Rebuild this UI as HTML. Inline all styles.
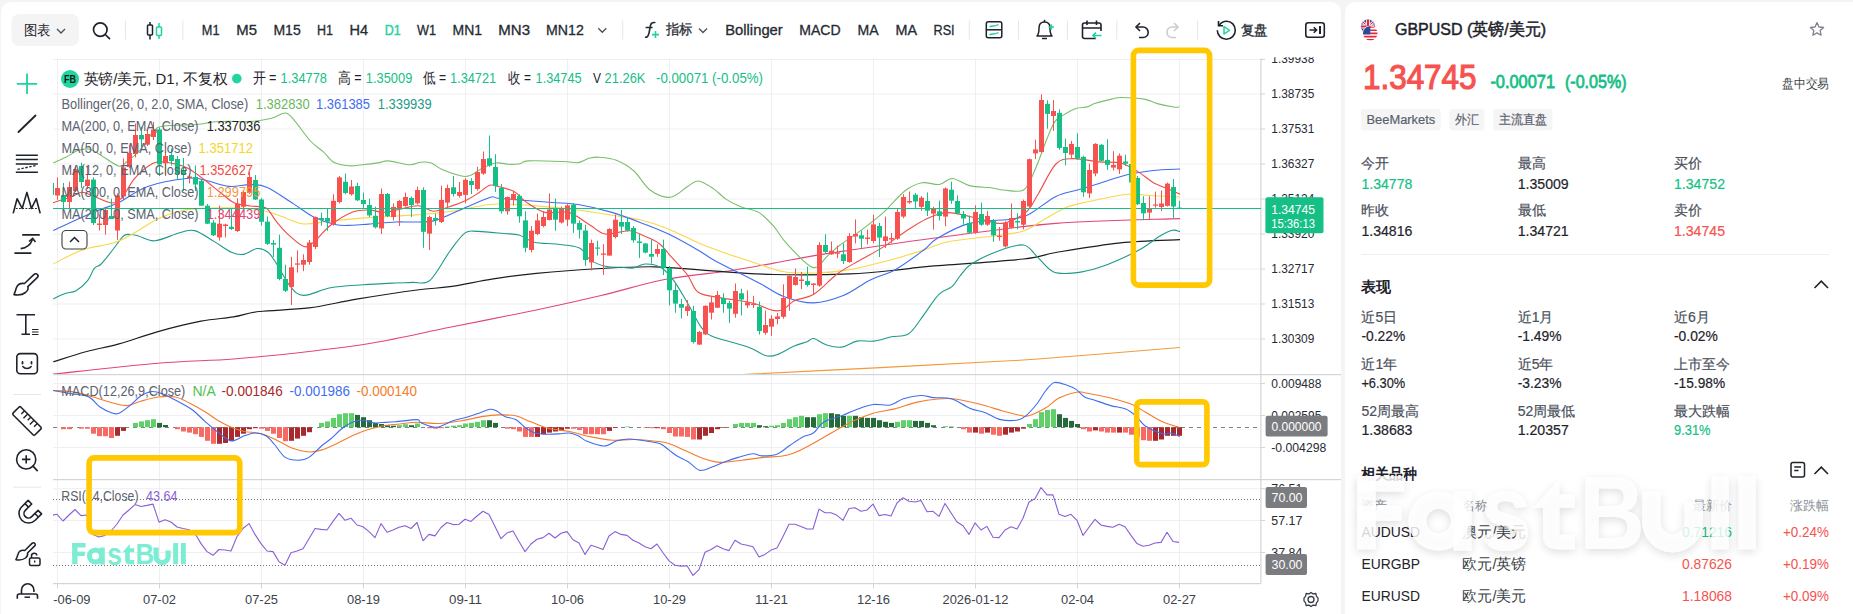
<!DOCTYPE html>
<html><head><meta charset="utf-8"><title>GBPUSD chart</title>
<style>html,body{margin:0;padding:0;width:1853px;height:614px;overflow:hidden;background:#f4f4f4;font-family:"Liberation Sans", sans-serif;} svg{display:block}</style>
</head><body><svg width="1853" height="614" viewBox="0 0 1853 614" font-family='"Liberation Sans", sans-serif'><rect x="0" y="0" width="1853" height="614" fill="#f4f4f4"/>
<rect x="1" y="2" width="1340" height="660" rx="10" fill="#fff"/>
<rect x="1345" y="2" width="1499.5" height="660" rx="10" fill="#fff"/>
<rect x="11.5" y="14" width="67.5" height="32" rx="8" fill="#f4f4f4"/>
<text x="24" y="34.6" font-size="13.5" fill="#1e232b" textLength="26.8" lengthAdjust="spacingAndGlyphs">图表</text>
<path d="M57 29 L61 33 L65 29" fill="none" stroke="#4a4f57" stroke-width="1.3"/>
<circle cx="100.3" cy="29.6" r="6.8" fill="none" stroke="#1e232b" stroke-width="1.7"/><path d="M105.2 34.5 L109.5 38.6" stroke="#1e232b" stroke-width="1.7" stroke-linecap="round"/>
<rect x="124.9" y="20.5" width="1" height="19" fill="#e3e5e8"/>
<rect x="182.3" y="20.5" width="1" height="19" fill="#e3e5e8"/>
<rect x="622.2" y="20.5" width="1" height="19" fill="#e3e5e8"/>
<rect x="968.8" y="20.5" width="1" height="19" fill="#e3e5e8"/>
<rect x="1018" y="20.5" width="1" height="19" fill="#e3e5e8"/>
<rect x="1066.9" y="20.5" width="1" height="19" fill="#e3e5e8"/>
<rect x="1116.3" y="20.5" width="1" height="19" fill="#e3e5e8"/>
<rect x="1197.1" y="20.5" width="1" height="19" fill="#e3e5e8"/>
<rect x="147.5" y="25" width="5" height="10" rx="1" fill="none" stroke="#1e232b" stroke-width="1.5"/><path d="M150 22 V25 M150 35 V39.5" stroke="#1e232b" stroke-width="1.5"/>
<rect x="156.5" y="27" width="5" height="8.5" rx="1" fill="none" stroke="#1fd2a0" stroke-width="1.5"/><path d="M159 23 V27 M159 35.5 V39" stroke="#1fd2a0" stroke-width="1.5"/>
<text x="201.8" y="35" font-size="14.2" fill="#262b33" textLength="17.7" lengthAdjust="spacingAndGlyphs" stroke="#262b33" stroke-width="0.3">M1</text>
<text x="236.3" y="35" font-size="14.2" fill="#262b33" textLength="20.7" lengthAdjust="spacingAndGlyphs" stroke="#262b33" stroke-width="0.3">M5</text>
<text x="273.4" y="35" font-size="14.2" fill="#262b33" textLength="27.3" lengthAdjust="spacingAndGlyphs" stroke="#262b33" stroke-width="0.3">M15</text>
<text x="317" y="35" font-size="14.2" fill="#262b33" textLength="16" lengthAdjust="spacingAndGlyphs" stroke="#262b33" stroke-width="0.3">H1</text>
<text x="349.4" y="35" font-size="14.2" fill="#262b33" textLength="18.6" lengthAdjust="spacingAndGlyphs" stroke="#262b33" stroke-width="0.3">H4</text>
<text x="384.8" y="35" font-size="14.2" fill="#1fd2a0" textLength="15.9" lengthAdjust="spacingAndGlyphs" stroke="#1fd2a0" stroke-width="0.45">D1</text>
<text x="417" y="35" font-size="14.2" fill="#262b33" textLength="19" lengthAdjust="spacingAndGlyphs" stroke="#262b33" stroke-width="0.3">W1</text>
<text x="452.5" y="35" font-size="14.2" fill="#262b33" textLength="29.5" lengthAdjust="spacingAndGlyphs" stroke="#262b33" stroke-width="0.3">MN1</text>
<text x="498.3" y="35" font-size="14.2" fill="#262b33" textLength="31.7" lengthAdjust="spacingAndGlyphs" stroke="#262b33" stroke-width="0.3">MN3</text>
<text x="546" y="35" font-size="14.2" fill="#262b33" textLength="37.8" lengthAdjust="spacingAndGlyphs" stroke="#262b33" stroke-width="0.3">MN12</text>
<text x="725.2" y="35" font-size="14.2" fill="#262b33" textLength="57.6" lengthAdjust="spacingAndGlyphs" stroke="#262b33" stroke-width="0.3">Bollinger</text>
<text x="799.2" y="35" font-size="14.2" fill="#262b33" textLength="41.4" lengthAdjust="spacingAndGlyphs" stroke="#262b33" stroke-width="0.3">MACD</text>
<text x="857.5" y="35" font-size="14.2" fill="#262b33" textLength="21.1" lengthAdjust="spacingAndGlyphs" stroke="#262b33" stroke-width="0.3">MA</text>
<text x="895.5" y="35" font-size="14.2" fill="#262b33" textLength="21.5" lengthAdjust="spacingAndGlyphs" stroke="#262b33" stroke-width="0.3">MA</text>
<text x="933.5" y="35" font-size="14.2" fill="#262b33" textLength="21.1" lengthAdjust="spacingAndGlyphs" stroke="#262b33" stroke-width="0.3">RSI</text>
<path d="M598.3 28.3 L602.3 32.3 L606.3 28.3" fill="none" stroke="#4a4f57" stroke-width="1.3"/>
<path d="M699 28.5 L703 32.5 L707 28.5" fill="none" stroke="#4a4f57" stroke-width="1.3"/>
<path d="M645.5 37.3 C647.5 37.3 648.5 35.5 649 33 L650.6 25 C651 23 652.5 22.3 654.8 22.5" fill="none" stroke="#262b33" stroke-width="1.6" stroke-linecap="round"/><path d="M645.6 27.5 H652.6" stroke="#262b33" stroke-width="1.5"/><path d="M652 34.6 H659 M655.5 31.1 V38.1" stroke="#1fd2a0" stroke-width="1.6"/>
<text x="665.8" y="34.2" font-size="13.5" fill="#262b33" textLength="26.8" lengthAdjust="spacingAndGlyphs" stroke="#262b33" stroke-width="0.25">指标</text>
<rect x="986.3" y="21.8" width="15.5" height="16" rx="2" fill="none" stroke="#1e232b" stroke-width="1.5"/><path d="M986.5 29.8 H1001.5" stroke="#1e232b" stroke-width="1.5"/><path d="M989.5 27 C992 25 995 27 998.5 24.5 M989.5 35 C992 33 995 35 998.5 32.5" fill="none" stroke="#1fd2a0" stroke-width="1.5"/>
<path d="M1037 36 C1039 34 1039 31 1039 28 C1039 24 1041.5 22 1044.5 22 C1047.5 22 1050 24 1050 28 C1050 31 1050 34 1052 36 Z" fill="none" stroke="#1e232b" stroke-width="1.5" stroke-linejoin="round"/><path d="M1042 38.5 H1047" stroke="#1e232b" stroke-width="1.5"/><path d="M1044.5 19.8 V22" stroke="#1e232b" stroke-width="1.5"/><path d="M1048.5 27 H1054 M1051.2 24.2 V29.8" stroke="#1fd2a0" stroke-width="1.5"/>
<path d="M1096 38.5 H1084.5 C1083.4 38.5 1082.5 37.6 1082.5 36.5 V25 C1082.5 23.9 1083.4 23 1084.5 23 H1099 C1100.1 23 1101 23.9 1101 25 V31" fill="none" stroke="#1e232b" stroke-width="1.6"/><path d="M1082.5 28 H1101 M1087 20.5 V25 M1096.5 20.5 V25" stroke="#1e232b" stroke-width="1.6"/><path d="M1101.5 35.5 H1093 M1096 32.5 L1093 35.5 L1096 38.5" fill="none" stroke="#1fd2a0" stroke-width="1.6"/>
<path d="M1137 27 H1143 C1146 27 1148.2 29.5 1148.2 32.3 C1148.2 35.2 1146 37.5 1143 37.5 H1139" fill="none" stroke="#1e232b" stroke-width="1.6"/><path d="M1140 23 L1136 27 L1140 31" fill="none" stroke="#1e232b" stroke-width="1.6"/>
<path d="M1177 27 H1172 C1169 27 1167 29.5 1167 32.3 C1167 35.2 1169 37.5 1172 37.5 H1176" fill="none" stroke="#c9ccd2" stroke-width="1.6"/><path d="M1174 23 L1178 27 L1174 31" fill="none" stroke="#c9ccd2" stroke-width="1.6"/>
<path d="M1219 25.5 C1220.8 22.8 1223.8 21.2 1226.5 21.2 C1231.6 21.2 1235.3 25.3 1235.3 30.3 C1235.3 35.3 1231.3 39.3 1226.3 39.3 C1221.3 39.3 1217.3 35.3 1217.3 30.3" fill="none" stroke="#1e232b" stroke-width="1.6"/><path d="M1218.5 21 V25.8 H1223" fill="none" stroke="#1e232b" stroke-width="1.6"/><path d="M1224 26.5 L1229.5 30.3 L1224 34 Z" fill="none" stroke="#1fd2a0" stroke-width="1.5" stroke-linejoin="round"/>
<text x="1240.6" y="35" font-size="13.5" fill="#262b33" textLength="27" lengthAdjust="spacingAndGlyphs" stroke="#262b33" stroke-width="0.35">复盘</text>
<rect x="1305.8" y="22.8" width="18.5" height="14.5" rx="2.5" fill="none" stroke="#1e232b" stroke-width="1.6"/><path d="M1309.5 30 H1316.5 M1313.8 27.2 L1316.6 30 L1313.8 32.8" fill="none" stroke="#1e232b" stroke-width="1.6"/><path d="M1320 26 V34" stroke="#1e232b" stroke-width="2"/>
<path d="M27 73.5 V94 M16.8 83.8 H37.2" stroke="#1fd2a0" stroke-width="1.8"/>
<path d="M18.5 132 L35.5 115.5" stroke="#1e232b" stroke-width="1.8" stroke-linecap="round"/>
<path d="M15.8 155.3 H37.9 M15.8 159.6 H37.9 M15.8 163.9 H37.9 M15.8 172.3 H37.9" stroke="#1e232b" stroke-width="1.5"/><path d="M17.5 169.4 L36.5 165.4" stroke="#1e232b" stroke-width="1.4" stroke-dasharray="2.4 1.6"/>
<path d="M13.2 213.4 L17.1 198.7 L22.2 208.5 L26.9 192.4 L31.4 208.5 L36.3 198.7 L40.2 213.4" fill="none" stroke="#1e232b" stroke-width="1.6" stroke-linejoin="round"/><path d="M15.8 208.5 H37.3" stroke="#1e232b" stroke-width="1.2" stroke-dasharray="1.8 1.4"/>
<path d="M22.2 234.9 H39.8 M14.4 253.1 H31.4" stroke="#1e232b" stroke-width="1.6"/><path d="M20.7 248.6 C26 248 30.5 245 32.4 239.5" fill="none" stroke="#1e232b" stroke-width="1.6"/><path d="M29 241.5 L32.6 238.5 L35.5 242" fill="none" stroke="#1e232b" stroke-width="1.6"/>
<path d="M37.6 274.8 C36.5 273.5 35 273.5 33.8 274.6 L24.5 283.5 C21 283 17.5 284.5 16.3 288 C15.4 290.8 15 292.5 14 294.6 C18 295.3 22.5 294.8 25.5 292.5 C27.6 290.7 28.4 288 27.8 286.6 L37.2 277.6 C38.2 276.8 38.3 275.7 37.6 274.8 Z" fill="none" stroke="#1e232b" stroke-width="1.6" stroke-linejoin="round"/>
<path d="M16.5 314.8 H35 M25.8 314.8 V334.3 M21.5 334.3 H30" stroke="#1e232b" stroke-width="1.6"/><path d="M32 329.5 H38.5 M32 332 H38.5 M32 334.5 H38.5" stroke="#1e232b" stroke-width="1.2"/>
<rect x="16.8" y="353.6" width="20.6" height="20.2" rx="3.5" fill="none" stroke="#1e232b" stroke-width="1.6"/><path d="M22.5 362 V363.5 M31.5 362 V363.5" stroke="#1e232b" stroke-width="1.8" stroke-linecap="round"/><path d="M22.8 366.5 C25 369.3 29 369.3 31.2 366.5" fill="none" stroke="#1e232b" stroke-width="1.5" stroke-linecap="round"/>
<rect x="13" y="394" width="28" height="1" fill="#e6e7ea"/><rect x="13" y="486.7" width="28" height="1" fill="#e6e7ea"/>
<g transform="translate(27 421) rotate(45)"><rect x="-15.5" y="-5.5" width="31" height="11" rx="1.5" fill="none" stroke="#1e232b" stroke-width="1.6"/><path d="M-9 -5.5 V-1 M-4.5 -5.5 V0.5 M0 -5.5 V-1 M4.5 -5.5 V0.5 M9 -5.5 V-1" stroke="#1e232b" stroke-width="1.4"/></g>
<circle cx="26.2" cy="459.4" r="9.6" fill="none" stroke="#1e232b" stroke-width="1.6"/><path d="M33 466.2 L37.2 470.7" stroke="#1e232b" stroke-width="1.7" stroke-linecap="round"/><path d="M22 459.4 H30.4 M26.2 455.2 V463.6" stroke="#1e232b" stroke-width="1.6"/>
<g transform="translate(28.5 513.5) rotate(45)"><path d="M-9.5 -9 V0 A9.5 9.5 0 0 0 9.5 0 V-9 H4.5 V0 A4.5 4.5 0 0 1 -4.5 0 V-9 Z" fill="none" stroke="#1e232b" stroke-width="1.6" stroke-linejoin="round"/><path d="M-9.5 -4.5 H-4.5 M4.5 -4.5 H9.5" stroke="#1e232b" stroke-width="1.5"/></g>
<path d="M34.8 543.5 C34 542.5 33 542.5 32 543.4 L24.8 550.5 C21.8 550 19 551.3 18 554.2 C17.2 556.6 16.8 558 15.9 559.7 C19.3 560.3 23 559.9 25.5 558 C27.3 556.5 27.9 554.2 27.5 553 L34.7 545.9 C35.5 545.2 35.5 544.3 34.8 543.5 Z" fill="none" stroke="#1e232b" stroke-width="1.5" stroke-linejoin="round"/><rect x="29.5" y="558" width="10.5" height="7.5" rx="1.5" fill="none" stroke="#1e232b" stroke-width="1.5"/><path d="M31.5 558 V556 C31.5 554.3 32.7 553.3 34.2 553.3 C35.7 553.3 36.8 554.3 36.8 555.5" fill="none" stroke="#1e232b" stroke-width="1.5"/><path d="M34.7 560.5 V562.5" stroke="#1e232b" stroke-width="1.4"/>
<path d="M21.5 594 V590 A6.2 6.2 0 0 1 33.9 590 V592" fill="none" stroke="#1e232b" stroke-width="1.6"/><path d="M17.3 598.8 V596 Q17.3 594 19.3 594 H35.5 Q37.5 594 37.5 596 V598.8" fill="none" stroke="#1e232b" stroke-width="1.6"/><path d="M24.5 597.2 H30" stroke="#1e232b" stroke-width="1.5"/>
<clipPath id="cp"><rect x="53" y="58.5" width="1208" height="315.5"/></clipPath><clipPath id="cm"><rect x="53" y="374" width="1208" height="105"/></clipPath><clipPath id="cr"><rect x="53" y="479" width="1208" height="104"/></clipPath>
<g><rect x="53" y="59" width="1208" height="1" fill="#efeff1"/><rect x="53" y="93.5" width="1208" height="1" fill="#efeff1"/><rect x="53" y="128.5" width="1208" height="1" fill="#efeff1"/><rect x="53" y="163.5" width="1208" height="1" fill="#efeff1"/><rect x="53" y="198.5" width="1208" height="1" fill="#efeff1"/><rect x="53" y="233.5" width="1208" height="1" fill="#efeff1"/><rect x="53" y="268.5" width="1208" height="1" fill="#efeff1"/><rect x="53" y="303.5" width="1208" height="1" fill="#efeff1"/><rect x="53" y="338.5" width="1208" height="1" fill="#efeff1"/><rect x="53" y="383" width="1208" height="1" fill="#efeff1"/><rect x="53" y="415" width="1208" height="1" fill="#efeff1"/><rect x="53" y="447" width="1208" height="1" fill="#efeff1"/><rect x="53" y="488.2" width="1208" height="1" fill="#efeff1"/><rect x="53" y="520" width="1208" height="1" fill="#efeff1"/><rect x="53" y="552" width="1208" height="1" fill="#efeff1"/><rect x="57" y="58.5" width="1" height="525.0" fill="#efeff1"/><rect x="159" y="58.5" width="1" height="525.0" fill="#efeff1"/><rect x="261" y="58.5" width="1" height="525.0" fill="#efeff1"/><rect x="363" y="58.5" width="1" height="525.0" fill="#efeff1"/><rect x="465" y="58.5" width="1" height="525.0" fill="#efeff1"/><rect x="567" y="58.5" width="1" height="525.0" fill="#efeff1"/><rect x="669" y="58.5" width="1" height="525.0" fill="#efeff1"/><rect x="771" y="58.5" width="1" height="525.0" fill="#efeff1"/><rect x="873" y="58.5" width="1" height="525.0" fill="#efeff1"/><rect x="975" y="58.5" width="1" height="525.0" fill="#efeff1"/><rect x="1077" y="58.5" width="1" height="525.0" fill="#efeff1"/><rect x="1179" y="58.5" width="1" height="525.0" fill="#efeff1"/></g>
<rect x="53" y="374" width="1288" height="1.2" fill="#d3d4d7"/>
<rect x="53" y="479" width="1288" height="1.2" fill="#d3d4d7"/>
<rect x="53" y="583" width="1208" height="1.2" fill="#d3d4d7"/>
<rect x="1260.3" y="58.5" width="1.2" height="525.0" fill="#d3d4d7"/>
<rect x="1261" y="59" width="4" height="1" fill="#d3d4d7"/>
<rect x="1261" y="93.5" width="4" height="1" fill="#d3d4d7"/>
<rect x="1261" y="128.5" width="4" height="1" fill="#d3d4d7"/>
<rect x="1261" y="163.5" width="4" height="1" fill="#d3d4d7"/>
<rect x="1261" y="198.5" width="4" height="1" fill="#d3d4d7"/>
<rect x="1261" y="233.5" width="4" height="1" fill="#d3d4d7"/>
<rect x="1261" y="268.5" width="4" height="1" fill="#d3d4d7"/>
<rect x="1261" y="303.5" width="4" height="1" fill="#d3d4d7"/>
<rect x="1261" y="338.5" width="4" height="1" fill="#d3d4d7"/>
<rect x="1261" y="383" width="4" height="1" fill="#d3d4d7"/>
<rect x="1261" y="415" width="4" height="1" fill="#d3d4d7"/>
<rect x="1261" y="447" width="4" height="1" fill="#d3d4d7"/>
<rect x="1261" y="488.2" width="4" height="1" fill="#d3d4d7"/>
<rect x="1261" y="520" width="4" height="1" fill="#d3d4d7"/>
<rect x="1261" y="552" width="4" height="1" fill="#d3d4d7"/>
<rect x="57" y="583.5" width="1" height="5" fill="#d3d4d7"/>
<rect x="159" y="583.5" width="1" height="5" fill="#d3d4d7"/>
<rect x="261" y="583.5" width="1" height="5" fill="#d3d4d7"/>
<rect x="363" y="583.5" width="1" height="5" fill="#d3d4d7"/>
<rect x="465" y="583.5" width="1" height="5" fill="#d3d4d7"/>
<rect x="567" y="583.5" width="1" height="5" fill="#d3d4d7"/>
<rect x="669" y="583.5" width="1" height="5" fill="#d3d4d7"/>
<rect x="771" y="583.5" width="1" height="5" fill="#d3d4d7"/>
<rect x="873" y="583.5" width="1" height="5" fill="#d3d4d7"/>
<rect x="975" y="583.5" width="1" height="5" fill="#d3d4d7"/>
<rect x="1077" y="583.5" width="1" height="5" fill="#d3d4d7"/>
<rect x="1179" y="583.5" width="1" height="5" fill="#d3d4d7"/>
<g clip-path="url(#cp)"><path d="M700 377 C708.52 376.52 721 375.67 751.1 374.1 C781.2 372.53 839.12 369.75 880.6 367.6 C922.08 365.45 973.77 362.63 1000 361.2 C1026.23 359.77 1008 361.28 1038 359 C1068 356.72 1156.33 349.42 1180 347.5" fill="none" stroke="#f39a3c" stroke-width="1.1" stroke-linejoin="round"/><path d="M53.2 374.1 C70.67 372.3 127.95 365.82 158 363.3 C188.05 360.78 208.33 360.97 233.5 359 C258.67 357.03 285.62 354.2 309 351.5 C332.38 348.8 350.3 346.83 373.8 342.8 C397.3 338.77 422.92 332.77 450 327.3 C477.08 321.83 511.12 315.3 536.3 310 C561.48 304.7 579.5 300.62 601.1 295.5 C622.7 290.38 644.32 283.43 665.9 279.3 C687.48 275.17 712.62 273.4 730.6 270.7 C748.58 268 759.58 265.65 773.8 263.1 C788.02 260.55 803.2 257.55 815.9 255.4 C828.6 253.25 827.98 253.38 850 250.2 C872.02 247.02 913.68 240.77 948 236.3 C982.32 231.83 1017.23 226.35 1055.9 223.4 C1094.57 220.45 1159.32 219.4 1180 218.6" fill="none" stroke="#e2457a" stroke-width="1.1" stroke-linejoin="round"/><path d="M53.2 361.8 C58.78 360.08 75.73 354.48 86.7 351.5 C97.67 348.52 107.12 347.22 119 343.9 C130.88 340.58 144.33 335.38 158 331.6 C171.67 327.82 188.42 323.65 201 321.2 C213.58 318.75 223.77 318.52 233.5 316.9 C243.23 315.28 246.82 313 259.4 311.5 C271.98 310 292.82 309.95 309 307.9 C325.18 305.85 338.5 302.18 356.5 299.2 C374.5 296.22 401.42 292.08 417 290 C432.58 287.92 437.3 288.55 450 286.7 C462.7 284.85 478.82 281.13 493.2 278.9 C507.58 276.67 518.32 275.03 536.3 273.3 C554.28 271.57 581.32 269.58 601.1 268.5 C620.88 267.42 637.02 266.43 655 266.8 C672.98 267.17 689.2 269.42 709 270.7 C728.8 271.98 750.3 273.97 773.8 274.5 C797.3 275.03 828.6 274.75 850 273.9 C871.4 273.05 889.48 270.62 902.2 269.4 C914.92 268.18 906.08 268.33 926.3 266.6 C946.52 264.87 1001.9 261.35 1023.5 259 C1045.1 256.65 1039.72 255.2 1055.9 252.5 C1072.08 249.8 1099.92 244.95 1120.6 242.8 C1141.28 240.65 1170.1 240.13 1180 239.6" fill="none" stroke="#1b1d21" stroke-width="1.2" stroke-linejoin="round"/><path d="M53.2 298.9 C55.17 298 61.2 294.85 65 293.5 C68.8 292.15 72.2 293 76 290.8 C79.8 288.6 84.75 284.03 87.8 280.3 C90.85 276.57 92.07 271.12 94.3 268.4 C96.53 265.68 98.15 267.07 101.2 264 C104.25 260.93 108.9 254.67 112.6 250 C116.3 245.33 120.52 238.58 123.4 236 C126.28 233.42 127.38 234.5 129.9 234.5 C132.42 234.5 134.37 234.95 138.5 236 C142.63 237.05 147.87 241.33 154.7 240.8 C161.53 240.27 172.85 234.5 179.5 232.8 C186.15 231.1 188.85 229.17 194.6 230.6 C200.35 232.03 207.88 237.8 214 241.4 C220.12 245 226.43 250.03 231.3 252.2 C236.17 254.37 238.88 255.02 243.2 254.4 C247.52 253.78 253.07 248.87 257.2 248.5 C261.33 248.13 264.75 249.62 268 252.2 C271.25 254.78 273.03 258.37 276.7 264 C280.37 269.63 285.52 280.77 290 286 C294.48 291.23 296.83 295.1 303.6 295.4 C310.37 295.7 320.7 289.57 330.6 287.8 C340.5 286.03 352.2 285.6 363 284.8 C373.8 284 387.12 283.4 395.4 283 C403.68 282.6 406.93 282.85 412.7 282.4 C418.47 281.95 423.78 285.53 430 280.3 C436.22 275.07 444.15 258.9 450 251 C455.85 243.1 460.43 236.17 465.1 232.9 C469.77 229.63 471.52 231.3 478 231.4 C484.48 231.5 497.17 232.9 504 233.5 C510.83 234.1 513.97 233.55 519 235 C524.03 236.45 527.7 240.65 534.2 242.2 C540.7 243.75 550.45 243.33 558 244.3 C565.55 245.27 574.12 245.4 579.5 248 C584.88 250.6 585.98 256.85 590.3 259.9 C594.62 262.95 600.18 265.07 605.4 266.3 C610.62 267.53 616.92 267.02 621.6 267.3 C626.28 267.58 629.55 268.55 633.5 268 C637.45 267.45 640.82 264.12 645.3 264 C649.78 263.88 655.72 264.6 660.4 267.3 C665.08 270 668.88 274.25 673.4 280.2 C677.92 286.15 682.82 295.08 687.5 303 C692.18 310.92 697.37 322.15 701.5 327.7 C705.63 333.25 706.92 333.78 712.3 336.3 C717.68 338.82 727.33 340.82 733.8 342.8 C740.27 344.78 745.7 346.03 751.1 348.2 C756.5 350.37 761.88 354.72 766.2 355.8 C770.52 356.88 772.32 356.33 777 354.7 C781.68 353.07 789.27 348.17 794.3 346 C799.33 343.83 803.97 342.95 807.2 341.7 C810.43 340.45 810.45 337.95 813.7 338.5 C816.95 339.05 822.02 343.57 826.7 345 C831.38 346.43 836.77 347.75 841.8 347.1 C846.83 346.45 851.52 342.1 856.9 341.1 C862.28 340.1 868.35 341.82 874.1 341.1 C879.85 340.38 885.63 338.02 891.4 336.8 C897.17 335.58 903.3 337.47 908.7 333.8 C914.1 330.13 918.77 321.38 923.8 314.8 C928.83 308.22 934.22 298.98 938.9 294.3 C943.58 289.62 948.38 289.75 951.9 286.7 C955.42 283.65 956.77 279.78 960 276 C963.23 272.22 964.68 268.27 971.3 264 C977.92 259.73 991 253.57 999.7 250.4 C1008.4 247.23 1017.38 244.1 1023.5 245 C1029.62 245.9 1031.37 251.3 1036.4 255.8 C1041.43 260.3 1046.85 269.2 1053.7 272 C1060.55 274.8 1069.95 273.33 1077.5 272.6 C1085.05 271.87 1091.82 269.87 1099 267.6 C1106.18 265.33 1113.4 262.23 1120.6 259 C1127.8 255.77 1135.72 251.98 1142.2 248.2 C1148.68 244.42 1154.47 239.28 1159.5 236.3 C1164.53 233.32 1168.98 231.08 1172.4 230.3 C1175.82 229.52 1178.73 231.38 1180 231.6" fill="none" stroke="#1f9a8a" stroke-width="1.1" stroke-linejoin="round"/><path d="M53.3 162.8 C55.47 161.83 62.23 159.03 66.3 157 C70.37 154.97 73.92 151.93 77.7 150.6 C81.48 149.27 85.47 148.45 89 149 C92.53 149.55 94 151.07 98.9 153.9 C103.8 156.73 113.8 164.65 118.4 166 C123 167.35 122.9 164.67 126.5 162 C130.1 159.33 135.42 155.17 140 150 C144.58 144.83 150 135 154 131 C158 127 156.9 127.08 164 126 C171.1 124.92 188.43 125.17 196.6 124.5 C204.77 123.83 207.6 122.53 213 122 C218.4 121.47 222.83 121.37 229 121.3 C235.17 121.23 242.9 122.1 250 121.6 C257.1 121.1 265.67 119.73 271.6 118.3 C277.53 116.87 281.65 112.45 285.6 113 C289.55 113.55 291.17 116.93 295.3 121.6 C299.43 126.27 305.72 135.97 310.4 141 C315.08 146.03 319.43 148.2 323.4 151.8 C327.37 155.4 329.88 160.27 334.2 162.6 C338.52 164.93 344.62 165.43 349.3 165.8 C353.98 166.17 357.27 165.33 362.3 164.8 C367.33 164.27 375.18 163.25 379.5 162.6 C383.82 161.95 383.17 160.53 388.2 160.9 C393.23 161.27 404.32 164.58 409.7 164.8 C415.08 165.02 416.9 162.5 420.5 162.2 C424.1 161.9 427.7 161.78 431.3 163 C434.9 164.22 437.07 167.33 442.1 169.5 C447.13 171.67 456.82 174.98 461.5 176 C466.18 177.02 466.95 176.77 470.2 175.6 C473.45 174.43 476.7 171.1 481 169 C485.3 166.9 491.33 163.78 496 163 C500.67 162.22 505.03 164.18 509 164.3 C512.97 164.42 516.55 164.27 519.8 163.7 C523.05 163.13 521.3 161.27 528.5 160.9 C535.7 160.53 554.75 161.22 563 161.5 C571.25 161.78 573.67 163.13 578 162.6 C582.33 162.07 585.38 159.2 589 158.3 C592.62 157.4 595.03 156.85 599.7 157.2 C604.37 157.55 611.28 158.1 617 160.4 C622.72 162.7 628.5 166.07 634 171 C639.5 175.93 643.97 185.62 650 190 C656.03 194.38 663.95 197.88 670.2 197.3 C676.45 196.72 682.83 189.22 687.5 186.5 C692.17 183.78 693.88 180.65 698.2 181 C702.52 181.35 708.72 185.53 713.4 188.6 C718.08 191.67 721.63 196.33 726.3 199.4 C730.97 202.47 736 204.83 741.4 207 C746.8 209.17 753.3 209.17 758.7 212.4 C764.1 215.63 769.12 221.18 773.8 226.4 C778.48 231.62 780.32 236.87 786.8 243.7 C793.28 250.53 805.87 265.42 812.7 267.4 C819.53 269.38 823.25 259.33 827.8 255.6 C832.35 251.87 834.37 249.28 840 245 C845.63 240.72 854.4 235.3 861.6 229.9 C868.8 224.5 876 219.08 883.2 212.6 C890.4 206.12 898.33 195.97 904.8 191 C911.27 186.03 916.25 183.88 922 182.8 C927.75 181.72 934.25 185.22 939.3 184.5 C944.35 183.78 947.27 178.32 952.3 178.5 C957.33 178.68 963.03 184.05 969.5 185.6 C975.97 187.15 985.35 187.07 991.1 187.8 C996.85 188.53 998.6 189.63 1004 190 C1009.4 190.37 1018.45 193.07 1023.5 190 C1028.55 186.93 1030.45 179.97 1034.3 171.6 C1038.15 163.23 1043.2 148.08 1046.6 139.8 C1050 131.52 1051.98 125.97 1054.7 121.9 C1057.42 117.83 1059.37 117.63 1062.9 115.4 C1066.43 113.17 1071.83 109.92 1075.9 108.5 C1079.97 107.08 1084.05 107.78 1087.3 106.9 C1090.55 106.02 1091.33 104.5 1095.4 103.2 C1099.47 101.9 1107.35 100.05 1111.7 99.1 C1116.05 98.15 1116.07 97.5 1121.5 97.5 C1126.93 97.5 1138.33 98.08 1144.3 99.1 C1150.27 100.12 1152.15 102.25 1157.3 103.6 C1162.45 104.95 1171.53 106.7 1175.2 107.2 C1178.87 107.7 1178.62 106.7 1179.3 106.6" fill="none" stroke="#79bf6a" stroke-width="1.1" stroke-linejoin="round"/><path d="M53 264 C57.9 261.67 72.1 253.58 82.4 250 C92.7 246.42 105.82 245.55 114.8 242.5 C123.78 239.45 129.1 235.67 136.3 231.7 C143.5 227.73 150.8 222.12 158 218.7 C165.2 215.28 172.33 212.92 179.5 211.2 C186.67 209.48 190.92 208.93 201 208.4 C211.08 207.87 229.18 207.53 240 208 C250.82 208.47 257.98 209.42 265.9 211.2 C273.82 212.98 281.15 216.57 287.5 218.7 C293.85 220.83 296.82 223.62 304 224 C311.18 224.38 319.82 222.07 330.6 221 C341.38 219.93 354.3 218.62 368.7 217.6 C383.1 216.58 403.45 215.92 417 214.9 C430.55 213.88 438.25 213.2 450 211.5 C461.75 209.8 477.67 205.92 487.5 204.7 C497.33 203.48 500.87 204 509 204.2 C517.13 204.4 524.55 204.9 536.3 205.9 C548.05 206.9 565.1 208.35 579.5 210.2 C593.9 212.05 612.62 215.4 622.7 217 C632.78 218.6 632.8 217.97 640 219.8 C647.2 221.63 656.13 224.13 665.9 228 C675.67 231.87 689.62 239.13 698.6 243 C707.58 246.87 710.87 248.03 719.8 251.2 C728.73 254.37 741.5 258.58 752.2 262 C762.9 265.42 773.37 269.87 784 271.7 C794.63 273.53 805.3 273.3 816 273 C826.7 272.7 835.63 272.12 848.2 269.9 C860.77 267.68 878.8 263.02 891.4 259.7 C904 256.38 914.37 253 923.8 250 C933.23 247 936.78 243.98 948 241.7 C959.22 239.42 978.52 238.08 991.1 236.3 C1003.68 234.52 1014.52 233.88 1023.5 231 C1032.48 228.12 1037.8 222.97 1045 219 C1052.2 215.03 1059.5 210.07 1066.7 207.2 C1073.9 204.33 1078.13 203.95 1088.2 201.8 C1098.27 199.65 1116.3 195.3 1127.1 194.3 C1137.9 193.3 1144.18 195.35 1153 195.8 C1161.82 196.25 1175.5 196.8 1180 197" fill="none" stroke="#f7d84a" stroke-width="1.1" stroke-linejoin="round"/><path d="M53.2 230.6 C59.87 227.55 82.33 216.95 93.2 212.3 C104.07 207.65 109.32 207.02 118.4 202.7 C127.48 198.38 136.03 190.47 147.7 186.4 C159.37 182.33 178.9 179.37 188.4 178.3 C197.9 177.23 197.93 178.65 204.7 180 C211.47 181.35 221.45 185.63 229 186.4 C236.55 187.17 243.62 184.43 250 184.6 C256.38 184.77 260.1 184.23 267.3 187.4 C274.5 190.57 285.28 198.57 293.2 203.6 C301.12 208.63 307.62 214.07 314.8 217.6 C321.98 221.13 330.07 223.53 336.3 224.8 C342.53 226.07 346.8 225.32 352.2 225.2 C357.6 225.08 361.5 224.63 368.7 224.1 C375.9 223.57 388.2 222.35 395.4 222 C402.6 221.65 405.55 222.18 411.9 222 C418.25 221.82 426.32 222.52 433.5 220.9 C440.68 219.28 445.77 216.17 455 212.3 C464.23 208.43 481.7 200.05 488.9 197.7 C496.1 195.35 492.08 197.73 498.2 198.2 C504.32 198.67 516.6 199.78 525.6 200.5 C534.6 201.22 543.22 201.78 552.2 202.5 C561.18 203.22 569.55 203.15 579.5 204.8 C589.45 206.45 601.1 209.2 611.9 212.4 C622.7 215.6 634.78 220.35 644.3 224 C653.82 227.65 659.95 229.9 669 234.3 C678.05 238.7 691.43 246.28 698.6 250.4 C705.77 254.52 706.85 256.02 712 259 C717.15 261.98 724.6 265.82 729.5 268.3 C734.4 270.78 736 271.2 741.4 273.9 C746.8 276.6 754.88 280.75 761.9 284.5 C768.92 288.25 774.87 293.33 783.5 296.4 C792.13 299.47 803.63 303.08 813.7 302.9 C823.77 302.72 834.55 299.08 843.9 295.3 C853.25 291.52 861.17 284.52 869.8 280.2 C878.43 275.88 886.7 274.43 895.7 269.4 C904.7 264.37 916.9 255.15 923.8 250 C930.7 244.85 929.48 242.93 937.1 238.5 C944.72 234.07 956.9 226.65 969.5 223.4 C982.1 220.15 1002.62 220.62 1012.7 219 C1022.78 217.38 1022.8 217.47 1030 213.7 C1037.2 209.93 1047.98 200.35 1055.9 196.4 C1063.82 192.45 1070.32 192.15 1077.5 190 C1084.68 187.85 1090.73 186.03 1099 183.5 C1107.27 180.97 1118.1 176.97 1127.1 174.8 C1136.1 172.63 1144.18 171.47 1153 170.5 C1161.82 169.53 1175.5 169.25 1180 169" fill="none" stroke="#3f6df0" stroke-width="1.1" stroke-linejoin="round"/><path d="M53 202.7 C56 201.75 66.2 198.73 71 197 C75.8 195.27 78.23 192.55 81.8 192.3 C85.37 192.05 87.47 193.73 92.4 195.5 C97.33 197.27 106.47 202.55 111.4 202.9 C116.33 203.25 118.12 201.7 122 197.6 C125.88 193.5 129.6 183.97 134.7 178.3 C139.8 172.63 147.72 166.32 152.6 163.6 C157.48 160.88 159.93 161.87 164 162 C168.07 162.13 172.93 163.32 177 164.4 C181.07 165.48 183.78 165.9 188.4 168.5 C193.02 171.1 199.27 175.92 204.7 180 C210.13 184.08 216.12 189.22 221 193 C225.88 196.78 229.17 200.53 234 202.7 C238.83 204.87 244.68 205.12 250 206 C255.32 206.88 261.58 205.52 265.9 208 C270.22 210.48 272.3 216.58 275.9 220.9 C279.5 225.22 282.7 229.58 287.5 233.9 C292.3 238.22 300.03 245.73 304.7 246.8 C309.37 247.87 311.18 243.9 315.5 240.3 C319.82 236.7 324.48 229.87 330.6 225.2 C336.72 220.53 345.85 214.83 352.2 212.3 C358.55 209.77 363.43 210 368.7 210 C373.97 210 378.42 212.47 383.8 212.3 C389.18 212.13 395.23 210.08 401 209 C406.77 207.92 412.98 205.43 418.4 205.8 C423.82 206.17 428.47 211.02 433.5 211.2 C438.53 211.38 443.2 208.7 448.6 206.9 C454 205.1 460.87 202.75 465.9 200.4 C470.93 198.05 474.85 195.32 478.8 192.8 C482.75 190.28 486.37 186.37 489.6 185.3 C492.83 184.23 494 185.3 498.2 186.4 C502.4 187.5 510.23 189.37 514.8 191.9 C519.37 194.43 520.57 198.18 525.6 201.6 C530.63 205.02 537.82 210.6 545 212.4 C552.18 214.2 561.15 210.25 568.7 212.4 C576.25 214.55 584.18 221.7 590.3 225.3 C596.42 228.9 598.92 233.1 605.4 234 C611.88 234.9 622.72 230.35 629.2 230.7 C635.68 231.05 639.27 233.93 644.3 236.1 C649.33 238.27 655.08 240.45 659.4 243.7 C663.72 246.95 665.52 250.38 670.2 255.6 C674.88 260.82 682.83 268.88 687.5 275 C692.17 281.12 692.82 288.53 698.2 292.3 C703.58 296.07 710.8 295.82 719.8 297.6 C728.8 299.38 743.38 300.87 752.2 303 C761.02 305.13 767.48 309.33 772.7 310.4 C777.92 311.47 779.9 311.02 783.5 309.4 C787.1 307.78 789.27 303.22 794.3 300.7 C799.33 298.18 806.5 298.8 813.7 294.3 C820.9 289.8 829.95 279.28 837.5 273.7 C845.05 268.12 851.38 265.23 859 260.8 C866.62 256.37 875.57 251.9 883.2 247.1 C890.83 242.3 897.62 236.68 904.8 232 C911.98 227.32 919.1 222.23 926.3 219 C933.5 215.77 939 212.6 948 212.6 C957 212.6 971.32 217.2 980.3 219 C989.28 220.8 994.35 224.47 1001.9 223.4 C1009.45 222.33 1019.48 217.63 1025.6 212.6 C1031.72 207.57 1033.55 201.3 1038.6 193.2 C1043.65 185.1 1050.15 169.77 1055.9 164 C1061.65 158.23 1065.92 158.95 1073.1 158.6 C1080.28 158.25 1091.08 161.17 1099 161.9 C1106.92 162.63 1114.12 161.38 1120.6 163 C1127.08 164.62 1132.5 168.37 1137.9 171.6 C1143.3 174.83 1147.97 179.52 1153 182.4 C1158.03 185.28 1163.6 186.92 1168.1 188.9 C1172.6 190.88 1178.02 193.4 1180 194.3" fill="none" stroke="#ef4c45" stroke-width="1.1" stroke-linejoin="round"/><g fill="#f6524f"><rect x="57" y="177.5" width="1" height="22.2"/><rect x="55" y="188" width="5" height="7.5"/><rect x="69" y="181.7" width="1" height="26.3"/><rect x="67" y="187" width="5" height="15"/><rect x="75" y="166" width="1" height="26"/><rect x="73" y="169" width="5" height="22"/><rect x="87" y="166" width="1" height="23"/><rect x="85" y="179.6" width="5" height="6.4"/><rect x="99" y="214.6" width="1" height="15.9"/><rect x="97" y="223.5" width="5" height="1.5"/><rect x="105" y="208" width="1" height="26.7"/><rect x="103" y="210" width="5" height="15"/><rect x="117" y="193.4" width="1" height="46.6"/><rect x="115" y="195.5" width="5" height="35"/><rect x="123" y="158.4" width="1" height="41.3"/><rect x="121" y="167.5" width="5" height="29"/><rect x="129" y="144.7" width="1" height="23.3"/><rect x="127" y="153" width="5" height="14"/><rect x="135" y="123.5" width="1" height="33.9"/><rect x="133" y="135" width="5" height="19"/><rect x="147" y="130" width="1" height="16"/><rect x="145" y="134" width="5" height="10.7"/><rect x="153" y="122" width="1" height="18"/><rect x="151" y="129.5" width="5" height="7.5"/><rect x="165" y="151.7" width="1" height="24.3"/><rect x="163" y="156" width="5" height="7.4"/><rect x="189" y="174" width="1" height="9.5"/><rect x="187" y="176.5" width="5" height="1.5"/><rect x="219" y="205.7" width="1" height="34.9"/><rect x="217" y="223.7" width="5" height="13.7"/><rect x="225" y="223.7" width="1" height="13.7"/><rect x="223" y="224.5" width="5" height="1.5"/><rect x="237" y="198.3" width="1" height="33.7"/><rect x="235" y="203.6" width="5" height="27.4"/><rect x="243" y="190" width="1" height="18"/><rect x="241" y="192" width="5" height="14.7"/><rect x="249" y="172" width="1" height="22"/><rect x="247" y="177" width="5" height="16"/><rect x="291" y="256.9" width="1" height="48.1"/><rect x="289" y="267.3" width="5" height="19.6"/><rect x="297" y="250.4" width="1" height="22.1"/><rect x="295" y="263.4" width="5" height="1.3"/><rect x="303" y="254.3" width="1" height="16.9"/><rect x="301" y="260" width="5" height="4.7"/><rect x="309" y="240" width="1" height="24.7"/><rect x="307" y="242.5" width="5" height="19.5"/><rect x="315" y="216.5" width="1" height="32.5"/><rect x="313" y="217" width="5" height="30"/><rect x="333" y="194.3" width="1" height="31.3"/><rect x="331" y="200.8" width="5" height="23.5"/><rect x="339" y="176" width="1" height="27.4"/><rect x="337" y="177.4" width="5" height="24.6"/><rect x="351" y="180" width="1" height="15.6"/><rect x="349" y="186.5" width="5" height="7.8"/><rect x="381" y="188.5" width="1" height="45.5"/><rect x="379" y="194" width="5" height="34.4"/><rect x="393" y="203.3" width="1" height="17.1"/><rect x="391" y="207" width="5" height="10"/><rect x="399" y="199.9" width="1" height="26.1"/><rect x="397" y="201" width="5" height="8"/><rect x="405" y="192.6" width="1" height="14.1"/><rect x="403" y="197" width="5" height="9"/><rect x="417" y="186.6" width="1" height="17.8"/><rect x="415" y="190" width="5" height="13.3"/><rect x="429" y="215.8" width="1" height="34.2"/><rect x="427" y="217" width="5" height="16.6"/><rect x="441" y="185.7" width="1" height="37.3"/><rect x="439" y="200" width="5" height="22"/><rect x="447" y="184.6" width="1" height="23.3"/><rect x="445" y="188" width="5" height="14.6"/><rect x="459" y="182" width="1" height="15.6"/><rect x="457" y="192" width="5" height="3.8"/><rect x="465" y="178.2" width="1" height="25.1"/><rect x="463" y="179.8" width="5" height="15.1"/><rect x="477" y="166.8" width="1" height="23.9"/><rect x="475" y="172" width="5" height="17"/><rect x="483" y="151.5" width="1" height="23.3"/><rect x="481" y="159" width="5" height="14.6"/><rect x="507" y="196.5" width="1" height="18.2"/><rect x="505" y="197" width="5" height="14.3"/><rect x="513" y="190.7" width="1" height="14.9"/><rect x="511" y="194" width="5" height="6"/><rect x="531" y="226" width="1" height="26.4"/><rect x="529" y="230.7" width="5" height="19.3"/><rect x="537" y="213.6" width="1" height="21.6"/><rect x="535" y="220.4" width="5" height="13.6"/><rect x="543" y="211.3" width="1" height="16"/><rect x="541" y="217" width="5" height="9"/><rect x="549" y="193.5" width="1" height="26.9"/><rect x="547" y="209.5" width="5" height="10.5"/><rect x="561" y="206.5" width="1" height="17.1"/><rect x="559" y="209" width="5" height="13.5"/><rect x="567" y="204.2" width="1" height="21.8"/><rect x="565" y="205.4" width="5" height="14.3"/><rect x="591" y="239.6" width="1" height="30.8"/><rect x="589" y="243" width="5" height="19.4"/><rect x="603" y="244.2" width="1" height="30.8"/><rect x="601" y="253.5" width="5" height="1.3"/><rect x="609" y="228.2" width="1" height="27.4"/><rect x="607" y="229" width="5" height="26.6"/><rect x="615" y="214.5" width="1" height="24"/><rect x="613" y="219.7" width="5" height="17.3"/><rect x="657" y="244.2" width="1" height="12.6"/><rect x="655" y="249" width="5" height="4.8"/><rect x="687" y="300.1" width="1" height="15.9"/><rect x="685" y="306.3" width="5" height="4.7"/><rect x="699" y="331" width="1" height="13.6"/><rect x="697" y="332" width="5" height="12.6"/><rect x="705" y="305.4" width="1" height="29.6"/><rect x="703" y="305.8" width="5" height="28.6"/><rect x="711" y="296.7" width="1" height="22.8"/><rect x="709" y="302.4" width="5" height="10.3"/><rect x="717" y="291" width="1" height="17.1"/><rect x="715" y="295" width="5" height="12.7"/><rect x="735" y="283.5" width="1" height="34.2"/><rect x="733" y="291" width="5" height="22.8"/><rect x="747" y="290.3" width="1" height="17.8"/><rect x="745" y="302.4" width="5" height="3"/><rect x="753" y="295.8" width="1" height="12.3"/><rect x="751" y="303.6" width="5" height="1.4"/><rect x="765" y="310.7" width="1" height="23.9"/><rect x="763" y="325" width="5" height="7.8"/><rect x="771" y="315.2" width="1" height="20.6"/><rect x="769" y="318.7" width="5" height="8"/><rect x="777" y="313" width="1" height="11.4"/><rect x="775" y="316.4" width="5" height="2.6"/><rect x="783" y="284.4" width="1" height="34.3"/><rect x="781" y="298" width="5" height="18.8"/><rect x="789" y="275.3" width="1" height="35.4"/><rect x="787" y="275.8" width="5" height="22.8"/><rect x="795" y="268.5" width="1" height="17.1"/><rect x="793" y="277" width="5" height="8"/><rect x="801" y="271.9" width="1" height="17.1"/><rect x="799" y="279.5" width="5" height="1.5"/><rect x="813" y="283.3" width="1" height="10.7"/><rect x="811" y="283.5" width="5" height="1.5"/><rect x="819" y="242.2" width="1" height="44.5"/><rect x="817" y="245" width="5" height="40.6"/><rect x="831" y="241.5" width="1" height="13.3"/><rect x="829" y="250.7" width="5" height="3.6"/><rect x="837" y="245.6" width="1" height="12.6"/><rect x="835" y="252.5" width="5" height="1.2"/><rect x="849" y="233.1" width="1" height="29.7"/><rect x="847" y="236" width="5" height="26"/><rect x="855" y="219.4" width="1" height="24"/><rect x="853" y="234" width="5" height="2.5"/><rect x="867" y="229.6" width="1" height="14.8"/><rect x="865" y="237.5" width="5" height="1.5"/><rect x="873" y="214.8" width="1" height="28.5"/><rect x="871" y="224.4" width="5" height="16.6"/><rect x="885" y="216.6" width="1" height="31.3"/><rect x="883" y="236.4" width="5" height="4.6"/><rect x="891" y="233" width="1" height="10.3"/><rect x="889" y="238" width="5" height="1.5"/><rect x="897" y="207.9" width="1" height="32"/><rect x="895" y="212" width="5" height="26.7"/><rect x="903" y="194.2" width="1" height="24"/><rect x="901" y="197" width="5" height="19.6"/><rect x="909" y="191.5" width="1" height="12.3"/><rect x="907" y="201" width="5" height="1.5"/><rect x="921" y="196" width="1" height="14.7"/><rect x="919" y="197.7" width="5" height="9.1"/><rect x="933" y="206.8" width="1" height="22.8"/><rect x="931" y="208.4" width="5" height="5.2"/><rect x="945" y="187.4" width="1" height="38.8"/><rect x="943" y="188.5" width="5" height="28.1"/><rect x="975" y="205.3" width="1" height="28.5"/><rect x="973" y="212" width="5" height="20.7"/><rect x="987" y="211" width="1" height="14.8"/><rect x="985" y="216" width="5" height="8.7"/><rect x="999" y="227" width="1" height="13.7"/><rect x="997" y="235.8" width="5" height="1.2"/><rect x="1005" y="221.3" width="1" height="26.2"/><rect x="1003" y="223" width="5" height="23.4"/><rect x="1011" y="203.5" width="1" height="25.1"/><rect x="1009" y="218" width="5" height="9.7"/><rect x="1023" y="199.6" width="1" height="29.7"/><rect x="1021" y="201" width="5" height="23.7"/><rect x="1029" y="158.5" width="1" height="49.1"/><rect x="1027" y="159.2" width="5" height="47.2"/><rect x="1035" y="139.6" width="1" height="19.6"/><rect x="1033" y="149.4" width="5" height="4"/><rect x="1041" y="94.3" width="1" height="58.2"/><rect x="1039" y="100" width="5" height="52"/><rect x="1053" y="100" width="1" height="30.8"/><rect x="1051" y="111" width="5" height="5"/><rect x="1071" y="140.9" width="1" height="17.1"/><rect x="1069" y="143.9" width="5" height="10.7"/><rect x="1089" y="163.7" width="1" height="34.3"/><rect x="1087" y="170" width="5" height="23.4"/><rect x="1095" y="143.2" width="1" height="33.1"/><rect x="1093" y="143.9" width="5" height="29.6"/><rect x="1113" y="151.2" width="1" height="19.4"/><rect x="1111" y="164.9" width="5" height="2.7"/><rect x="1119" y="153.5" width="1" height="20.5"/><rect x="1117" y="155.7" width="5" height="13.7"/><rect x="1149" y="196.2" width="1" height="23.9"/><rect x="1147" y="208.7" width="5" height="3.9"/><rect x="1155" y="191.6" width="1" height="16"/><rect x="1153" y="204.5" width="5" height="1.2"/><rect x="1161" y="190.5" width="1" height="20.5"/><rect x="1159" y="203.5" width="5" height="3.5"/><rect x="1167" y="182.5" width="1" height="24"/><rect x="1165" y="183.6" width="5" height="22.2"/></g><g fill="#15bf86"><rect x="51" y="180" width="1" height="18"/><rect x="49" y="183" width="5" height="12"/><rect x="63" y="183" width="1" height="25"/><rect x="61" y="195" width="5" height="7"/><rect x="81" y="162.7" width="1" height="25.3"/><rect x="79" y="166" width="5" height="16"/><rect x="93" y="177.5" width="1" height="47.5"/><rect x="91" y="179.6" width="5" height="43.4"/><rect x="111" y="198.7" width="1" height="20.3"/><rect x="109" y="216" width="5" height="3"/><rect x="141" y="126.6" width="1" height="20.2"/><rect x="139" y="135" width="5" height="4.4"/><rect x="159" y="127.4" width="1" height="48.6"/><rect x="157" y="129.5" width="5" height="34.9"/><rect x="171" y="148.6" width="1" height="16.9"/><rect x="169" y="155" width="5" height="6"/><rect x="177" y="156" width="1" height="23"/><rect x="175" y="159" width="5" height="15"/><rect x="183" y="158" width="1" height="33"/><rect x="181" y="170.8" width="5" height="4.2"/><rect x="195" y="165.5" width="1" height="25.5"/><rect x="193" y="177" width="5" height="7.5"/><rect x="201" y="180" width="1" height="26"/><rect x="199" y="181" width="5" height="24.7"/><rect x="207" y="204" width="1" height="20"/><rect x="205" y="205.7" width="5" height="18"/><rect x="213" y="220" width="1" height="16"/><rect x="211" y="222.6" width="5" height="12.7"/><rect x="231" y="208.9" width="1" height="21.1"/><rect x="229" y="226.8" width="5" height="2.2"/><rect x="255" y="175" width="1" height="25"/><rect x="253" y="180" width="5" height="19.5"/><rect x="261" y="198.2" width="1" height="27.4"/><rect x="259" y="199.5" width="5" height="22.2"/><rect x="267" y="216.5" width="1" height="28.5"/><rect x="265" y="221.7" width="5" height="22.1"/><rect x="273" y="240" width="1" height="17"/><rect x="271" y="243" width="5" height="1.6"/><rect x="279" y="234.7" width="1" height="45.6"/><rect x="277" y="247.8" width="5" height="31.2"/><rect x="285" y="264.7" width="1" height="27.3"/><rect x="283" y="279" width="5" height="11.8"/><rect x="321" y="212.6" width="1" height="13"/><rect x="319" y="218" width="5" height="2"/><rect x="327" y="208.7" width="1" height="22.1"/><rect x="325" y="218" width="5" height="3.7"/><rect x="345" y="173.5" width="1" height="20.8"/><rect x="343" y="181.8" width="5" height="11.2"/><rect x="357" y="182.8" width="1" height="18.2"/><rect x="355" y="186" width="5" height="14.3"/><rect x="363" y="192.6" width="1" height="15.3"/><rect x="361" y="200" width="5" height="4"/><rect x="369" y="198.7" width="1" height="18.3"/><rect x="367" y="205" width="5" height="10.4"/><rect x="375" y="206.7" width="1" height="21.7"/><rect x="373" y="215.8" width="5" height="11.5"/><rect x="387" y="193" width="1" height="24"/><rect x="385" y="194" width="5" height="22.3"/><rect x="411" y="196.5" width="1" height="20.5"/><rect x="409" y="198" width="5" height="7"/><rect x="423" y="187.3" width="1" height="60.5"/><rect x="421" y="190" width="5" height="41.8"/><rect x="435" y="213.6" width="1" height="11.8"/><rect x="433" y="218" width="5" height="2.4"/><rect x="453" y="176" width="1" height="20.5"/><rect x="451" y="187.3" width="5" height="6.7"/><rect x="471" y="178.2" width="1" height="15.8"/><rect x="469" y="181" width="5" height="4"/><rect x="489" y="135.5" width="1" height="31.3"/><rect x="487" y="158.3" width="5" height="7.3"/><rect x="495" y="154.2" width="1" height="37.7"/><rect x="493" y="167" width="5" height="19"/><rect x="501" y="183.9" width="1" height="29.7"/><rect x="499" y="188" width="5" height="23.3"/><rect x="519" y="194.2" width="1" height="28.5"/><rect x="517" y="195.8" width="5" height="20.5"/><rect x="525" y="211.3" width="1" height="41.1"/><rect x="523" y="220.4" width="5" height="27.4"/><rect x="555" y="198.5" width="1" height="32.2"/><rect x="553" y="209" width="5" height="10.7"/><rect x="573" y="203" width="1" height="29.8"/><rect x="571" y="204.7" width="5" height="18.9"/><rect x="579" y="220.2" width="1" height="18.3"/><rect x="577" y="223" width="5" height="6.8"/><rect x="585" y="224.8" width="1" height="41"/><rect x="583" y="230.5" width="5" height="29.5"/><rect x="597" y="240.7" width="1" height="14.9"/><rect x="595" y="247.5" width="5" height="1.2"/><rect x="621" y="210" width="1" height="24"/><rect x="619" y="222" width="5" height="4.6"/><rect x="627" y="216.8" width="1" height="14.8"/><rect x="625" y="222" width="5" height="8.5"/><rect x="633" y="226" width="1" height="16.6"/><rect x="631" y="228" width="5" height="12.3"/><rect x="639" y="233.9" width="1" height="24"/><rect x="637" y="241.5" width="5" height="1.5"/><rect x="645" y="243" width="1" height="10.3"/><rect x="643" y="243.5" width="5" height="9.1"/><rect x="651" y="239.6" width="1" height="24"/><rect x="649" y="254" width="5" height="2.7"/><rect x="663" y="239.7" width="1" height="35.3"/><rect x="661" y="249" width="5" height="19"/><rect x="669" y="266" width="1" height="39.4"/><rect x="667" y="268" width="5" height="22.3"/><rect x="675" y="283.5" width="1" height="29.2"/><rect x="673" y="290" width="5" height="13.6"/><rect x="681" y="299" width="1" height="19.4"/><rect x="679" y="304" width="5" height="3.7"/><rect x="693" y="305.8" width="1" height="37.7"/><rect x="691" y="311" width="5" height="31"/><rect x="723" y="293.3" width="1" height="19.4"/><rect x="721" y="298" width="5" height="6"/><rect x="729" y="300.8" width="1" height="22.2"/><rect x="727" y="303" width="5" height="5.6"/><rect x="741" y="288.7" width="1" height="26.7"/><rect x="739" y="293.3" width="5" height="6.2"/><rect x="759" y="301.6" width="1" height="33"/><rect x="757" y="306.8" width="5" height="24.2"/><rect x="807" y="266.6" width="1" height="20.1"/><rect x="805" y="281" width="5" height="4"/><rect x="825" y="234.2" width="1" height="19.4"/><rect x="823" y="245" width="5" height="7"/><rect x="843" y="243.4" width="1" height="20.5"/><rect x="841" y="254.3" width="5" height="6.7"/><rect x="861" y="230.7" width="1" height="17.2"/><rect x="859" y="235.3" width="5" height="3.4"/><rect x="879" y="222.8" width="1" height="34.2"/><rect x="877" y="226" width="5" height="11.6"/><rect x="915" y="193.1" width="1" height="14.8"/><rect x="913" y="194.7" width="5" height="6.8"/><rect x="927" y="192.4" width="1" height="23.6"/><rect x="925" y="201" width="5" height="9.7"/><rect x="939" y="200.6" width="1" height="19.9"/><rect x="937" y="211.3" width="5" height="4.7"/><rect x="951" y="181.7" width="1" height="22.1"/><rect x="949" y="189.7" width="5" height="11"/><rect x="957" y="195.4" width="1" height="19"/><rect x="955" y="201" width="5" height="12.5"/><rect x="963" y="211" width="1" height="13.7"/><rect x="961" y="214" width="5" height="4.5"/><rect x="969" y="215.6" width="1" height="18.2"/><rect x="967" y="223" width="5" height="9.7"/><rect x="981" y="202.6" width="1" height="23.2"/><rect x="979" y="214" width="5" height="10.7"/><rect x="993" y="219" width="1" height="22.8"/><rect x="991" y="220.8" width="5" height="14.6"/><rect x="1017" y="213.3" width="1" height="16"/><rect x="1015" y="221" width="5" height="1.5"/><rect x="1047" y="100.3" width="1" height="28.4"/><rect x="1045" y="103.9" width="5" height="10"/><rect x="1059" y="109.4" width="1" height="40.4"/><rect x="1057" y="112.8" width="5" height="35.1"/><rect x="1065" y="138.6" width="1" height="26.7"/><rect x="1063" y="147" width="5" height="6"/><rect x="1077" y="133.4" width="1" height="26.5"/><rect x="1075" y="147" width="5" height="11.5"/><rect x="1083" y="155.7" width="1" height="41.1"/><rect x="1081" y="156.9" width="5" height="35.4"/><rect x="1101" y="143.9" width="1" height="17.6"/><rect x="1099" y="144.8" width="5" height="16"/><rect x="1107" y="139.3" width="1" height="30.6"/><rect x="1105" y="159.9" width="5" height="5"/><rect x="1125" y="154.6" width="1" height="11.4"/><rect x="1123" y="161.5" width="5" height="2.2"/><rect x="1131" y="160" width="1" height="24"/><rect x="1129" y="164" width="5" height="18.5"/><rect x="1137" y="176" width="1" height="29"/><rect x="1135" y="178" width="5" height="26.2"/><rect x="1143" y="196.2" width="1" height="23.9"/><rect x="1141" y="203" width="5" height="10.3"/><rect x="1173" y="179" width="1" height="38.9"/><rect x="1171" y="187" width="5" height="19.5"/><rect x="1179" y="200.7" width="1" height="8"/><rect x="1177" y="207.6" width="5" height="1.2"/></g><rect x="53" y="208" width="1212" height="1" fill="#15bf86"/></g>
<g clip-path="url(#cm)"><path d="M53 427.5 H1261" stroke="#7d8088" stroke-width="1" stroke-dasharray="4 4"/><g fill="#f76a64"><rect x="61" y="427.2" width="5" height="2"/><rect x="67" y="427.2" width="5" height="2"/><rect x="79" y="427.2" width="5" height="1.5"/><rect x="85" y="427.2" width="5" height="1.5"/><rect x="91" y="427.2" width="5" height="6.5"/><rect x="97" y="427.2" width="5" height="9"/><rect x="103" y="427.2" width="5" height="9"/><rect x="109" y="427.2" width="5" height="10.8"/><rect x="175" y="427.2" width="5" height="2"/><rect x="181" y="427.2" width="5" height="4.3"/><rect x="187" y="427.2" width="5" height="5.4"/><rect x="193" y="427.2" width="5" height="7"/><rect x="199" y="427.2" width="5" height="9.7"/><rect x="205" y="427.2" width="5" height="13.6"/><rect x="211" y="427.2" width="5" height="16.6"/><rect x="259" y="427.2" width="5" height="1.5"/><rect x="265" y="427.2" width="5" height="3.7"/><rect x="271" y="427.2" width="5" height="6.5"/><rect x="277" y="427.2" width="5" height="10.8"/><rect x="283" y="427.2" width="5" height="14"/><rect x="427" y="427.2" width="5" height="1"/><rect x="433" y="427.2" width="5" height="1.5"/><rect x="439" y="427.2" width="5" height="1"/><rect x="505" y="427.2" width="5" height="1.5"/><rect x="511" y="427.2" width="5" height="2"/><rect x="517" y="427.2" width="5" height="4.3"/><rect x="523" y="427.2" width="5" height="9.7"/><rect x="529" y="427.2" width="5" height="9.7"/><rect x="571" y="427.2" width="5" height="1.5"/><rect x="577" y="427.2" width="5" height="2.8"/><rect x="583" y="427.2" width="5" height="7"/><rect x="589" y="427.2" width="5" height="7"/><rect x="595" y="427.2" width="5" height="7"/><rect x="601" y="427.2" width="5" height="7"/><rect x="643" y="427.2" width="5" height="0.5"/><rect x="649" y="427.2" width="5" height="1"/><rect x="661" y="427.2" width="5" height="2"/><rect x="667" y="427.2" width="5" height="5.8"/><rect x="673" y="427.2" width="5" height="9.3"/><rect x="679" y="427.2" width="5" height="9.3"/><rect x="685" y="427.2" width="5" height="9.7"/><rect x="691" y="427.2" width="5" height="12.3"/><rect x="961" y="427.2" width="5" height="2"/><rect x="967" y="427.2" width="5" height="5.4"/><rect x="979" y="427.2" width="5" height="6.5"/><rect x="991" y="427.2" width="5" height="7.5"/><rect x="997" y="427.2" width="5" height="8.6"/><rect x="1081" y="427.2" width="5" height="2"/><rect x="1087" y="427.2" width="5" height="4.3"/><rect x="1099" y="427.2" width="5" height="4.3"/><rect x="1105" y="427.2" width="5" height="5.4"/><rect x="1111" y="427.2" width="5" height="5.4"/><rect x="1123" y="427.2" width="5" height="5.4"/><rect x="1129" y="427.2" width="5" height="7.5"/><rect x="1135" y="427.2" width="5" height="9.7"/><rect x="1141" y="427.2" width="5" height="13"/><rect x="1147" y="427.2" width="5" height="13.6"/></g><g fill="#a82a2e"><rect x="115" y="427.2" width="5" height="8.6"/><rect x="121" y="427.2" width="5" height="3.7"/><rect x="217" y="427.2" width="5" height="16.6"/><rect x="223" y="427.2" width="5" height="15.8"/><rect x="229" y="427.2" width="5" height="14"/><rect x="235" y="427.2" width="5" height="9.7"/><rect x="241" y="427.2" width="5" height="6.5"/><rect x="247" y="427.2" width="5" height="2"/><rect x="253" y="427.2" width="5" height="1"/><rect x="289" y="427.2" width="5" height="13.6"/><rect x="295" y="427.2" width="5" height="11.4"/><rect x="301" y="427.2" width="5" height="8.6"/><rect x="307" y="427.2" width="5" height="5"/><rect x="535" y="427.2" width="5" height="9.7"/><rect x="541" y="427.2" width="5" height="7"/><rect x="547" y="427.2" width="5" height="5.4"/><rect x="553" y="427.2" width="5" height="4.3"/><rect x="559" y="427.2" width="5" height="3.2"/><rect x="565" y="427.2" width="5" height="1.5"/><rect x="607" y="427.2" width="5" height="3.7"/><rect x="613" y="427.2" width="5" height="0.7"/><rect x="655" y="427.2" width="5" height="1"/><rect x="697" y="427.2" width="5" height="12.3"/><rect x="703" y="427.2" width="5" height="8.6"/><rect x="709" y="427.2" width="5" height="5.8"/><rect x="715" y="427.2" width="5" height="2"/><rect x="721" y="427.2" width="5" height="0.7"/><rect x="973" y="427.2" width="5" height="5.4"/><rect x="985" y="427.2" width="5" height="5.4"/><rect x="1003" y="427.2" width="5" height="7.5"/><rect x="1009" y="427.2" width="5" height="5.4"/><rect x="1015" y="427.2" width="5" height="4.3"/><rect x="1021" y="427.2" width="5" height="1.5"/><rect x="1093" y="427.2" width="5" height="3.2"/><rect x="1117" y="427.2" width="5" height="5.4"/><rect x="1153" y="427.2" width="5" height="13.6"/><rect x="1159" y="427.2" width="5" height="12.3"/><rect x="1165" y="427.2" width="5" height="8.6"/><rect x="1171" y="427.2" width="5" height="8.6"/><rect x="1177" y="427.2" width="5" height="8.6"/></g><g fill="#5fd06a"><rect x="133" y="422.9" width="5" height="4.3"/><rect x="139" y="421.4" width="5" height="5.8"/><rect x="145" y="420.2" width="5" height="7"/><rect x="151" y="419.2" width="5" height="8"/><rect x="319" y="422.9" width="5" height="4.3"/><rect x="325" y="421.4" width="5" height="5.8"/><rect x="331" y="417.9" width="5" height="9.3"/><rect x="337" y="414.2" width="5" height="13"/><rect x="343" y="413.2" width="5" height="14"/><rect x="349" y="413.2" width="5" height="14"/><rect x="397" y="425.2" width="5" height="2"/><rect x="403" y="424.2" width="5" height="3"/><rect x="415" y="423.5" width="5" height="3.7"/><rect x="445" y="426.5" width="5" height="0.7"/><rect x="451" y="425.7" width="5" height="1.5"/><rect x="457" y="425.2" width="5" height="2"/><rect x="463" y="423.5" width="5" height="3.7"/><rect x="469" y="422.9" width="5" height="4.3"/><rect x="475" y="421.8" width="5" height="5.4"/><rect x="481" y="420.2" width="5" height="7"/><rect x="625" y="426.5" width="5" height="0.7"/><rect x="733" y="424" width="5" height="3.2"/><rect x="739" y="422.9" width="5" height="4.3"/><rect x="745" y="422.9" width="5" height="4.3"/><rect x="751" y="422.9" width="5" height="4.3"/><rect x="769" y="425.7" width="5" height="1.5"/><rect x="775" y="425.2" width="5" height="2"/><rect x="781" y="422.9" width="5" height="4.3"/><rect x="787" y="419.2" width="5" height="8"/><rect x="793" y="417.2" width="5" height="10"/><rect x="799" y="415.8" width="5" height="11.4"/><rect x="817" y="414.2" width="5" height="13"/><rect x="823" y="413.2" width="5" height="14"/><rect x="847" y="415.8" width="5" height="11.4"/><rect x="895" y="421.8" width="5" height="5.4"/><rect x="901" y="420.2" width="5" height="7"/><rect x="907" y="420.2" width="5" height="7"/><rect x="943" y="426.2" width="5" height="1"/><rect x="1027" y="424" width="5" height="3.2"/><rect x="1033" y="419.2" width="5" height="8"/><rect x="1039" y="412.2" width="5" height="15"/><rect x="1045" y="409.9" width="5" height="17.3"/><rect x="1051" y="409.2" width="5" height="18"/></g><g fill="#256b3a"><rect x="157" y="422.9" width="5" height="4.3"/><rect x="163" y="425" width="5" height="2.2"/><rect x="355" y="414.9" width="5" height="12.3"/><rect x="361" y="417.2" width="5" height="10"/><rect x="367" y="420.2" width="5" height="7"/><rect x="373" y="422.9" width="5" height="4.3"/><rect x="379" y="424" width="5" height="3.2"/><rect x="385" y="425.2" width="5" height="2"/><rect x="391" y="425.7" width="5" height="1.5"/><rect x="409" y="425.2" width="5" height="2"/><rect x="487" y="420.2" width="5" height="7"/><rect x="493" y="422.9" width="5" height="4.3"/><rect x="757" y="425.2" width="5" height="2"/><rect x="763" y="426.2" width="5" height="1"/><rect x="805" y="417.2" width="5" height="10"/><rect x="811" y="417.2" width="5" height="10"/><rect x="829" y="413.2" width="5" height="14"/><rect x="835" y="414.2" width="5" height="13"/><rect x="841" y="415.8" width="5" height="11.4"/><rect x="853" y="415.8" width="5" height="11.4"/><rect x="859" y="417.2" width="5" height="10"/><rect x="865" y="417.9" width="5" height="9.3"/><rect x="871" y="417.9" width="5" height="9.3"/><rect x="877" y="420.2" width="5" height="7"/><rect x="883" y="421.8" width="5" height="5.4"/><rect x="889" y="422.9" width="5" height="4.3"/><rect x="913" y="420.9" width="5" height="6.3"/><rect x="919" y="420.9" width="5" height="6.3"/><rect x="925" y="422.9" width="5" height="4.3"/><rect x="931" y="425.2" width="5" height="2"/><rect x="949" y="426.7" width="5" height="0.5"/><rect x="1057" y="414.2" width="5" height="13"/><rect x="1063" y="417.9" width="5" height="9.3"/><rect x="1069" y="420.9" width="5" height="6.3"/><rect x="1075" y="424" width="5" height="3.2"/></g><path d="M53 390.5 C56.1 390.68 64.9 390.52 71.6 391.6 C78.3 392.68 86 395.02 93.2 397 C100.4 398.98 109.05 402.07 114.8 403.5 C120.55 404.93 123.38 405.97 127.7 405.6 C132.02 405.23 135.65 402.73 140.7 401.3 C145.75 399.87 152.25 397.72 158 397 C163.75 396.28 169.82 395.92 175.2 397 C180.58 398.08 185.27 401 190.3 403.5 C195.33 406 200.72 409.13 205.4 412 C210.08 414.87 214.08 418.17 218.4 420.7 C222.72 423.23 226.98 425.4 231.3 427.2 C235.62 429 239.27 430.42 244.3 431.5 C249.33 432.58 255.75 432.08 261.5 433.7 C267.25 435.32 273.75 438.82 278.8 441.2 C283.85 443.58 286.77 446.2 291.8 448 C296.83 449.8 303.97 451.68 309 452 C314.03 452.32 317.32 451.33 322 449.9 C326.68 448.47 332.07 445.75 337.1 443.4 C342.13 441.05 347.52 437.97 352.2 435.8 C356.88 433.63 360.17 432.03 365.2 430.4 C370.23 428.77 376.65 427.07 382.4 426 C388.15 424.93 393.93 424.63 399.7 424 C405.47 423.37 410.52 422.28 417 422.2 C423.48 422.12 431.17 423.75 438.6 423.5 C446.03 423.25 454.17 421.88 461.6 420.7 C469.03 419.52 477.08 417.37 483.2 416.4 C489.32 415.43 492.9 415 498.3 414.9 C503.7 414.8 510.2 414.65 515.6 415.8 C521 416.95 525.3 419.72 530.7 421.8 C536.1 423.88 541.53 426.68 548 428.3 C554.47 429.92 562.33 430.07 569.5 431.5 C576.67 432.93 583.8 435.45 591 436.9 C598.2 438.35 605.48 439.77 612.7 440.2 C619.92 440.63 627.1 439.33 634.3 439.5 C641.5 439.67 650.15 440.55 655.9 441.2 C661.65 441.85 663.77 441.77 668.8 443.4 C673.83 445.03 680.33 448.48 686.1 451 C691.87 453.52 697.65 456.6 703.4 458.5 C709.15 460.4 714.13 462.12 720.6 462.4 C727.07 462.68 735 461.03 742.2 460.2 C749.4 459.37 757.33 458.05 763.8 457.4 C770.27 456.75 775.97 457.03 781 456.3 C786.03 455.57 788.95 454.97 794 453 C799.05 451.03 805.9 447.37 811.3 444.5 C816.7 441.63 819.68 439.58 826.4 435.8 C833.12 432.02 843.8 425.57 851.6 421.8 C859.4 418.03 866 415.35 873.2 413.2 C880.4 411.05 887.62 410.7 894.8 408.9 C901.98 407.1 909.1 404.05 916.3 402.4 C923.5 400.75 931.52 399.57 938 399 C944.48 398.43 948.03 398.08 955.2 399 C962.37 399.92 973.08 402.5 981 404.5 C988.92 406.5 996.2 409.2 1002.7 411 C1009.2 412.8 1015.68 414.5 1020 415.3 C1024.32 416.1 1024.28 417.05 1028.6 415.8 C1032.92 414.55 1040.87 410.77 1045.9 407.8 C1050.93 404.83 1053.77 400.6 1058.8 398 C1063.83 395.4 1071.78 393.08 1076.1 392.2 C1080.42 391.32 1078.95 391.73 1084.7 392.7 C1090.45 393.67 1102.68 396.03 1110.6 398 C1118.52 399.97 1126.43 402.17 1132.2 404.5 C1137.97 406.83 1140.17 409.12 1145.2 412 C1150.23 414.88 1156.8 419.27 1162.4 421.8 C1168 424.33 1176.07 426.3 1178.8 427.2" fill="none" stroke="#f57c2b" stroke-width="1.1"/><path d="M53 390.5 C56.1 391.03 65.62 392.62 71.6 393.7 C77.58 394.78 84.23 394.83 88.9 397 C93.57 399.17 95.65 404 99.6 406.7 C103.55 409.4 109.37 412.12 112.6 413.2 C115.83 414.28 116.12 414.47 119 413.2 C121.88 411.93 126.28 408.47 129.9 405.6 C133.52 402.73 137.1 398.33 140.7 396 C144.3 393.67 147.9 391.98 151.5 391.6 C155.1 391.22 158.35 392.3 162.3 393.7 C166.25 395.1 170.17 397.28 175.2 400 C180.23 402.72 187.47 406.37 192.5 410 C197.53 413.63 201.08 418.03 205.4 421.8 C209.72 425.57 214.08 429.43 218.4 432.6 C222.72 435.77 226.98 440.27 231.3 440.8 C235.62 441.33 240.35 437.1 244.3 435.8 C248.25 434.5 251.4 433 255 433 C258.6 433 262.65 433.88 265.9 435.8 C269.15 437.72 271.27 440.9 274.5 444.5 C277.73 448.1 281.35 454.78 285.3 457.4 C289.25 460.02 294.25 460.2 298.2 460.2 C302.15 460.2 305.03 459.85 309 457.4 C312.97 454.95 318.4 448.57 322 445.5 C325.6 442.43 327 442.05 330.6 439 C334.2 435.95 339.28 430.25 343.6 427.2 C347.92 424.15 352.9 421.78 356.5 420.7 C360.1 419.62 362.32 420.33 365.2 420.7 C368.08 421.07 370.93 422.6 373.8 422.9 C376.67 423.2 378.8 422.68 382.4 422.5 C386 422.32 389.63 422.28 395.4 421.8 C401.17 421.32 412.68 419.42 417 419.6 C421.32 419.78 418.07 421.63 421.3 422.9 C424.53 424.17 431.12 427.57 436.4 427.2 C441.68 426.83 448.07 422.32 453 420.7 C457.93 419.08 461.68 418.75 466 417.5 C470.32 416.25 474.97 414.57 478.9 413.2 C482.83 411.83 486.75 409.73 489.6 409.3 C492.45 408.87 493.47 409.42 496 410.6 C498.53 411.78 501.53 414.9 504.8 416.4 C508.07 417.9 512.02 417.62 515.6 419.6 C519.18 421.58 523.07 426.07 526.3 428.3 C529.53 430.53 531.38 432 535 433 C538.62 434 543.68 434.18 548 434.3 C552.32 434.42 557.32 433.92 560.9 433.7 C564.48 433.48 566.62 432.65 569.5 433 C572.38 433.35 575.32 434.43 578.2 435.8 C581.08 437.17 582.5 439.5 586.8 441.2 C591.1 442.9 598.97 446.07 604 446 C609.03 445.93 612.67 441.97 617 440.8 C621.33 439.63 624.97 438.93 630 439 C635.03 439.07 642.17 440.4 647.2 441.2 C652.23 442 656.6 442.35 660.2 443.8 C663.8 445.25 665.92 447.82 668.8 449.9 C671.68 451.98 674.27 454.33 677.5 456.3 C680.73 458.27 684.45 459.35 688.2 461.7 C691.95 464.05 696.03 469.52 700 470.4 C703.97 471.28 707.83 468.45 712 467 C716.17 465.55 720.67 463.3 725 461.7 C729.33 460.1 733.33 458.72 738 457.4 C742.67 456.08 749.07 454.05 753 453.8 C756.93 453.55 757.63 455.83 761.6 455.9 C765.57 455.97 772.12 455.93 776.8 454.2 C781.48 452.47 785.38 448.38 789.7 445.5 C794.02 442.62 798.75 438.98 802.7 436.9 C806.65 434.82 809.82 435.52 813.4 433 C816.98 430.48 819.27 424.75 824.2 421.8 C829.13 418.85 837.37 417.45 843 415.3 C848.63 413.15 852.97 410.7 858 408.9 C863.03 407.1 867.8 405.15 873.2 404.5 C878.6 403.85 885.37 405.97 890.4 405 C895.43 404.03 898.35 400.28 903.4 398.7 C908.45 397.12 915.67 395.68 920.7 395.5 C925.73 395.32 929.28 397.18 933.6 397.6 C937.92 398.02 943 397.57 946.6 398 C950.2 398.43 951.25 398.47 955.2 400.2 C959.15 401.93 965.27 406.32 970.3 408.4 C975.33 410.48 980.37 410.83 985.4 412.7 C990.43 414.57 995.1 418.38 1000.5 419.6 C1005.9 420.82 1013.48 420.72 1017.8 420 C1022.12 419.28 1023.17 418.05 1026.4 415.3 C1029.63 412.55 1033.95 407.63 1037.2 403.5 C1040.45 399.37 1043.02 394 1045.9 390.5 C1048.78 387 1050.9 383.33 1054.5 382.5 C1058.1 381.67 1063.9 384.35 1067.5 385.5 C1071.1 386.65 1073.23 387.48 1076.1 389.4 C1078.97 391.32 1081.82 395.27 1084.7 397 C1087.58 398.73 1089.08 398.37 1093.4 399.8 C1097.72 401.23 1105.22 404.08 1110.6 405.6 C1115.98 407.12 1121.38 407.1 1125.7 408.9 C1130.02 410.7 1133.25 413.55 1136.5 416.4 C1139.75 419.25 1140.88 423.12 1145.2 426 C1149.52 428.88 1158.08 432.53 1162.4 433.7 C1166.72 434.87 1168.22 432.53 1171.1 433 C1173.98 433.47 1178.27 435.92 1179.7 436.5" fill="none" stroke="#3f6df0" stroke-width="1.1"/></g>
<g clip-path="url(#cr)"><path d="M53 499.5 H1261 M53 565.5 H1261" stroke="#6f727a" stroke-width="1" stroke-dasharray="1 2"/><path d="M51 515.6 L57 514.3 L63 521 L69 515 L75 509.5 L81 515.6 L87 515 L93 534.4 L99 537 L105 535.4 L111 531 L117 524 L123 515 L129 510 L135 504.6 L141 506.5 L147 505.4 L153 504.1 L159 522.2 L165 519.8 L171 522 L177 527 L183 528.5 L189 529.8 L195 533.5 L201 543.6 L207 551.6 L213 555.3 L219 549.5 L225 550 L231 551 L237 536.5 L243 528.5 L249 523.6 L255 534.4 L261 543.6 L267 551 L273 551.6 L279 561.8 L285 565.2 L291 552.7 L297 551 L303 548.8 L309 538.7 L315 528.5 L321 529.4 L327 530 L333 521.4 L339 513.4 L345 520.3 L351 518.2 L357 525 L363 526.8 L369 531.6 L375 537.6 L381 523.6 L387 532.2 L393 530 L399 527.2 L405 525.7 L411 528.5 L417 522.5 L423 540.8 L429 534.4 L435 535.9 L441 527.5 L447 522.5 L453 524.6 L459 524.2 L465 519.3 L471 521.4 L477 516 L483 511.3 L489 514.5 L495 526.4 L501 538.7 L507 532.9 L513 531 L519 541.5 L525 551.6 L531 544 L537 539.3 L543 537.6 L549 533.3 L555 538 L561 533.3 L567 531.6 L573 539.8 L579 543 L585 554.4 L591 545.2 L597 547.3 L603 549.5 L609 536 L615 531.6 L621 534.4 L627 535.4 L633 540.2 L639 543 L645 546.7 L651 548.8 L657 544 L663 552.7 L669 560.9 L675 565.2 L681 566.1 L687 565.7 L693 575.4 L699 569.6 L705 552.3 L711 549.5 L717 545.8 L723 548.8 L729 550.6 L735 540.2 L741 544 L747 545.2 L753 546.7 L759 557 L765 554.4 L771 550.1 L777 548 L783 536.5 L789 524.2 L795 524.2 L801 526.4 L807 529 L813 529 L819 509.1 L825 512.8 L831 512.8 L837 515.3 L843 520.3 L849 508.5 L855 507.8 L861 511.3 L867 510 L873 504.1 L879 515.6 L885 514.5 L891 516 L897 503 L903 497.7 L909 501.3 L915 502 L921 500.5 L927 511.7 L933 511.3 L939 516.4 L945 503.5 L951 512.8 L957 522 L963 525.7 L969 534.4 L975 522.9 L981 530 L987 526.4 L993 537.2 L999 537.6 L1005 530 L1011 526.8 L1017 529 L1023 518.2 L1029 502 L1035 498.7 L1041 487.5 L1047 494.9 L1053 494.9 L1059 514.3 L1065 516.4 L1071 514.3 L1077 520.3 L1083 535.4 L1089 527.2 L1095 519.3 L1101 525 L1107 526.4 L1113 527.2 L1119 524.2 L1125 526.8 L1131 535.4 L1137 543.6 L1143 546.2 L1149 545.2 L1155 543 L1161 542.4 L1167 532.2 L1173 541.5 L1179 542.4" fill="none" stroke="#8a5fd6" stroke-width="1.1" stroke-linejoin="round"/></g>
<circle cx="70" cy="79" r="9" fill="#1fd6a0"/>
<text x="70" y="82.8" font-size="10" fill="#14171c" font-weight="700" text-anchor="middle" textLength="12" lengthAdjust="spacingAndGlyphs">FB</text>
<text x="83.5" y="84" font-size="15" fill="#1e232b" textLength="144.2" lengthAdjust="spacingAndGlyphs">英镑/美元, D1, 不复权</text>
<circle cx="236.8" cy="78.6" r="4.8" fill="#1fd6a0"/>
<text x="252.5" y="83" font-size="14.5" fill="#1e232b" textLength="23.8" lengthAdjust="spacingAndGlyphs">开 =</text>
<text x="280.6" y="83" font-size="14.5" fill="#15bf86" textLength="46.4" lengthAdjust="spacingAndGlyphs">1.34778</text>
<text x="337.8" y="83" font-size="14.5" fill="#1e232b" textLength="23.7" lengthAdjust="spacingAndGlyphs">高 =</text>
<text x="365.8" y="83" font-size="14.5" fill="#15bf86" textLength="46.5" lengthAdjust="spacingAndGlyphs">1.35009</text>
<text x="423" y="83" font-size="14.5" fill="#1e232b" textLength="23" lengthAdjust="spacingAndGlyphs">低 =</text>
<text x="450" y="83" font-size="14.5" fill="#15bf86" textLength="46.2" lengthAdjust="spacingAndGlyphs">1.34721</text>
<text x="508.4" y="83" font-size="14.5" fill="#1e232b" textLength="22.6" lengthAdjust="spacingAndGlyphs">收 =</text>
<text x="535.6" y="83" font-size="14.5" fill="#15bf86" textLength="46" lengthAdjust="spacingAndGlyphs">1.34745</text>
<text x="593" y="83" font-size="14.5" fill="#1e232b" textLength="8" lengthAdjust="spacingAndGlyphs">V</text>
<text x="604.6" y="83" font-size="14.5" fill="#15bf86" textLength="40.8" lengthAdjust="spacingAndGlyphs">21.26K</text>
<text x="656" y="83" font-size="14.5" fill="#15bf86" textLength="107" lengthAdjust="spacingAndGlyphs">-0.00071 (-0.05%)</text>
<text x="61.5" y="109" font-size="14.5" fill="#5c6370" textLength="186.7" lengthAdjust="spacingAndGlyphs">Bollinger(26, 0, 2.0, SMA, Close)</text>
<text x="255.8" y="109" font-size="14.5" fill="#6cb85e" textLength="53.9" lengthAdjust="spacingAndGlyphs">1.382830</text>
<text x="316" y="109" font-size="14.5" fill="#3f6df0" textLength="54" lengthAdjust="spacingAndGlyphs">1.361385</text>
<text x="377.7" y="109" font-size="14.5" fill="#1f9a8a" textLength="54" lengthAdjust="spacingAndGlyphs">1.339939</text>
<text x="61.5" y="131" font-size="14.5" fill="#5c6370" textLength="137.1" lengthAdjust="spacingAndGlyphs">MA(200, 0, EMA, Close)</text>
<text x="206.7" y="131" font-size="14.5" fill="#1b1d21" textLength="53.7" lengthAdjust="spacingAndGlyphs">1.337036</text>
<text x="61.5" y="153" font-size="14.5" fill="#5c6370" textLength="130.1" lengthAdjust="spacingAndGlyphs">MA(50, 0, EMA, Close)</text>
<text x="198.6" y="153" font-size="14.5" fill="#f7d52a" textLength="54.3" lengthAdjust="spacingAndGlyphs">1.351712</text>
<text x="61.5" y="175" font-size="14.5" fill="#5c6370" textLength="130.1" lengthAdjust="spacingAndGlyphs">MA(12, 0, EMA, Close)</text>
<text x="199.5" y="175" font-size="14.5" fill="#ef4c45" textLength="53.4" lengthAdjust="spacingAndGlyphs">1.352627</text>
<text x="61.5" y="197" font-size="14.5" fill="#5c6370" textLength="137.1" lengthAdjust="spacingAndGlyphs">MA(800, 0, EMA, Close)</text>
<text x="206.7" y="197" font-size="14.5" fill="#f39a3c" textLength="53.7" lengthAdjust="spacingAndGlyphs">1.299795</text>
<text x="61.5" y="219" font-size="14.5" fill="#5c6370" textLength="137.1" lengthAdjust="spacingAndGlyphs">MA(200, 0, SMA, Close)</text>
<text x="206.7" y="219" font-size="14.5" fill="#e2457a" textLength="53.7" lengthAdjust="spacingAndGlyphs">1.344439</text>
<rect x="62" y="230.5" width="25" height="18.5" rx="4" fill="#fff" stroke="#3a3f47" stroke-width="1.1"/><path d="M70 242 L74.5 237.5 L79 242" fill="none" stroke="#1e232b" stroke-width="1.5"/>
<text x="61.3" y="396" font-size="14.5" fill="#5c6370" textLength="124" lengthAdjust="spacingAndGlyphs">MACD(12,26,9,Close)</text>
<text x="192.5" y="396" font-size="14.5" fill="#4fc24f" textLength="23.3" lengthAdjust="spacingAndGlyphs">N/A</text>
<text x="221.6" y="396" font-size="14.5" fill="#a52a2a" textLength="61.1" lengthAdjust="spacingAndGlyphs">-0.001846</text>
<text x="289.6" y="396" font-size="14.5" fill="#3f6df0" textLength="60.4" lengthAdjust="spacingAndGlyphs">-0.001986</text>
<text x="356.5" y="396" font-size="14.5" fill="#f57c2b" textLength="60.5" lengthAdjust="spacingAndGlyphs">-0.000140</text>
<text x="61.3" y="501" font-size="14.5" fill="#5c6370" textLength="77.2" lengthAdjust="spacingAndGlyphs">RSI(14,Close)</text>
<text x="146" y="501" font-size="14.5" fill="#8a5fd6" textLength="31.4" lengthAdjust="spacingAndGlyphs">43.64</text>
<clipPath id="cax"><rect x="1262" y="57.2" width="80" height="560"/></clipPath>
<g clip-path="url(#cax)">
<text x="1271.3" y="63.2" font-size="13" fill="#262b33" textLength="43" lengthAdjust="spacingAndGlyphs">1.39938</text>
<text x="1271.3" y="97.7" font-size="13" fill="#262b33" textLength="43" lengthAdjust="spacingAndGlyphs">1.38735</text>
<text x="1271.3" y="132.7" font-size="13" fill="#262b33" textLength="43" lengthAdjust="spacingAndGlyphs">1.37531</text>
<text x="1271.3" y="167.7" font-size="13" fill="#262b33" textLength="43" lengthAdjust="spacingAndGlyphs">1.36327</text>
<text x="1271.3" y="202.7" font-size="13" fill="#262b33" textLength="43" lengthAdjust="spacingAndGlyphs">1.35124</text>
<text x="1271.3" y="237.7" font-size="13" fill="#262b33" textLength="43" lengthAdjust="spacingAndGlyphs">1.33920</text>
<text x="1271.3" y="272.7" font-size="13" fill="#262b33" textLength="43" lengthAdjust="spacingAndGlyphs">1.32717</text>
<text x="1271.3" y="307.7" font-size="13" fill="#262b33" textLength="43" lengthAdjust="spacingAndGlyphs">1.31513</text>
<text x="1271.3" y="342.7" font-size="13" fill="#262b33" textLength="43" lengthAdjust="spacingAndGlyphs">1.30309</text>
</g>
<rect x="1265.4" y="197.3" width="58.1" height="36" rx="2" fill="#15bf86"/>
<text x="1271.2" y="213.7" font-size="12.5" fill="#fff" textLength="43.8" lengthAdjust="spacingAndGlyphs">1.34745</text>
<text x="1271.2" y="228" font-size="12.5" fill="#fff" textLength="43.8" lengthAdjust="spacingAndGlyphs">15:36:13</text>
<text x="1271.3" y="387.8" font-size="12.5" fill="#262b33" textLength="50" lengthAdjust="spacingAndGlyphs">0.009488</text>
<text x="1271.3" y="420" font-size="12.5" fill="#262b33" textLength="50" lengthAdjust="spacingAndGlyphs">0.002595</text>
<text x="1271.3" y="452" font-size="12.5" fill="#262b33" textLength="55" lengthAdjust="spacingAndGlyphs">-0.004298</text>
<rect x="1265.6" y="415.8" width="62" height="20.6" rx="2" fill="#7a7c80"/>
<text x="1271.5" y="430.7" font-size="12.5" fill="#fff" textLength="50" lengthAdjust="spacingAndGlyphs">0.000000</text>
<text x="1271.3" y="493" font-size="12.5" fill="#262b33" textLength="31" lengthAdjust="spacingAndGlyphs">76.51</text>
<text x="1271.3" y="524.8" font-size="12.5" fill="#262b33" textLength="31" lengthAdjust="spacingAndGlyphs">57.17</text>
<text x="1271.3" y="557" font-size="12.5" fill="#262b33" textLength="31" lengthAdjust="spacingAndGlyphs">37.84</text>
<rect x="1265.6" y="487" width="41.4" height="21" rx="2" fill="#7a7c80"/>
<text x="1271.5" y="502" font-size="12.5" fill="#fff" textLength="31" lengthAdjust="spacingAndGlyphs">70.00</text>
<rect x="1265.6" y="554" width="41.4" height="21" rx="2" fill="#7a7c80"/>
<text x="1271.5" y="569" font-size="12.5" fill="#fff" textLength="31" lengthAdjust="spacingAndGlyphs">30.00</text>
<g transform="translate(1311 599.5)"><circle r="3" fill="none" stroke="#3a3f47" stroke-width="1.4"/><path d="M0 -7 L2 -5.6 L4.9 -6 L5.4 -3.4 L7 -1.4 V1.4 L5.4 3.4 L4.9 6 L2 5.6 L0 7 L-2 5.6 L-4.9 6 L-5.4 3.4 L-7 1.4 V-1.4 L-5.4 -3.4 L-4.9 -6 L-2 -5.6 Z" fill="none" stroke="#3a3f47" stroke-width="1.3" stroke-linejoin="round"/></g>
<clipPath id="ct"><rect x="53" y="585" width="1208" height="29"/></clipPath>
<g clip-path="url(#ct)"><text x="57.5" y="604" font-size="13" fill="#3d424a" text-anchor="middle" textLength="66" lengthAdjust="spacingAndGlyphs">2025-06-09</text><text x="159.5" y="604" font-size="13" fill="#3d424a" text-anchor="middle" textLength="33" lengthAdjust="spacingAndGlyphs">07-02</text><text x="261.5" y="604" font-size="13" fill="#3d424a" text-anchor="middle" textLength="33" lengthAdjust="spacingAndGlyphs">07-25</text><text x="363.5" y="604" font-size="13" fill="#3d424a" text-anchor="middle" textLength="33" lengthAdjust="spacingAndGlyphs">08-19</text><text x="465.5" y="604" font-size="13" fill="#3d424a" text-anchor="middle" textLength="33" lengthAdjust="spacingAndGlyphs">09-11</text><text x="567.5" y="604" font-size="13" fill="#3d424a" text-anchor="middle" textLength="33" lengthAdjust="spacingAndGlyphs">10-06</text><text x="669.5" y="604" font-size="13" fill="#3d424a" text-anchor="middle" textLength="33" lengthAdjust="spacingAndGlyphs">10-29</text><text x="771.5" y="604" font-size="13" fill="#3d424a" text-anchor="middle" textLength="33" lengthAdjust="spacingAndGlyphs">11-21</text><text x="873.5" y="604" font-size="13" fill="#3d424a" text-anchor="middle" textLength="33" lengthAdjust="spacingAndGlyphs">12-16</text><text x="975.5" y="604" font-size="13" fill="#3d424a" text-anchor="middle" textLength="66" lengthAdjust="spacingAndGlyphs">2026-01-12</text><text x="1077.5" y="604" font-size="13" fill="#3d424a" text-anchor="middle" textLength="33" lengthAdjust="spacingAndGlyphs">02-04</text><text x="1179.5" y="604" font-size="13" fill="#3d424a" text-anchor="middle" textLength="33" lengthAdjust="spacingAndGlyphs">02-27</text></g>
<clipPath id="fu"><circle cx="1368" cy="26.5" r="7.1"/></clipPath><clipPath id="fs"><circle cx="1370.3" cy="33.4" r="7.2"/></clipPath>
<g clip-path="url(#fu)"><rect x="1360" y="19" width="16" height="16" fill="#2b4a9c"/><path d="M1360 19 L1376 35 M1376 19 L1360 35" stroke="#fff" stroke-width="2.8"/><path d="M1360 19 L1376 35 M1376 19 L1360 35" stroke="#e0283f" stroke-width="1.1"/><path d="M1368 19 V35 M1360 26.5 H1376" stroke="#fff" stroke-width="3.8"/><path d="M1368 19 V35 M1360 26.5 H1376" stroke="#e0283f" stroke-width="2.2"/></g>
<circle cx="1370.3" cy="33.4" r="7.9" fill="#fff"/>
<g clip-path="url(#fs)"><rect x="1362" y="26" width="17" height="16" fill="#fff"/><path d="M1362 27 H1379 M1362 30.2 H1379 M1362 33.4 H1379 M1362 36.6 H1379 M1362 39.8 H1379" stroke="#e0283f" stroke-width="1.6"/><rect x="1362" y="26" width="8.3" height="8.4" fill="#2b4a9c"/></g>
<text x="1395" y="35.3" font-size="17" fill="#1e232b" textLength="151" lengthAdjust="spacingAndGlyphs" stroke="#1e232b" stroke-width="0.5">GBPUSD (英镑/美元)</text>
<path d="M1817 22.6 L1819 27 L1823.6 27.5 L1820.2 30.6 L1821.1 35.2 L1817 32.9 L1812.9 35.2 L1813.8 30.6 L1810.4 27.5 L1815 27 Z" fill="none" stroke="#7d828c" stroke-width="1.3" stroke-linejoin="round"/>
<text x="1363" y="88.9" font-size="35.5" fill="#f6524f" textLength="113.5" lengthAdjust="spacingAndGlyphs" stroke="#f6524f" stroke-width="1.2">1.34745</text>
<text x="1490.4" y="88.2" font-size="18.5" fill="#15bf86" textLength="64.6" lengthAdjust="spacingAndGlyphs" stroke="#15bf86" stroke-width="0.8">-0.00071</text>
<text x="1565" y="88.2" font-size="18.5" fill="#15bf86" textLength="61.5" lengthAdjust="spacingAndGlyphs" stroke="#15bf86" stroke-width="0.8">(-0.05%)</text>
<text x="1829" y="87.5" font-size="12.5" fill="#3a3f47" text-anchor="end" textLength="47" lengthAdjust="spacingAndGlyphs">盘中交易</text>
<rect x="1361" y="109" width="79.7" height="21.4" rx="3" fill="#f5f5f5"/>
<text x="1400.85" y="124.3" font-size="12.5" fill="#5a616d" text-anchor="middle" textLength="68.7" lengthAdjust="spacingAndGlyphs" stroke="#5a616d" stroke-width="0.2">BeeMarkets</text>
<rect x="1449.4" y="109" width="35.1" height="21.4" rx="3" fill="#f5f5f5"/>
<text x="1466.95" y="124.3" font-size="12.5" fill="#5a616d" text-anchor="middle" textLength="24.1" lengthAdjust="spacingAndGlyphs" stroke="#5a616d" stroke-width="0.2">外汇</text>
<rect x="1493.2" y="109" width="59.2" height="21.4" rx="3" fill="#f5f5f5"/>
<text x="1522.8" y="124.3" font-size="12.5" fill="#5a616d" text-anchor="middle" textLength="48.2" lengthAdjust="spacingAndGlyphs" stroke="#5a616d" stroke-width="0.2">主流直盘</text>
<text x="1361.4" y="168.4" font-size="14" fill="#4b515b" textLength="28" lengthAdjust="spacingAndGlyphs" stroke="#4b515b" stroke-width="0.2">今开</text>
<text x="1361.4" y="188.5" font-size="15" fill="#15bf86" textLength="51" lengthAdjust="spacingAndGlyphs" stroke="#15bf86" stroke-width="0.2">1.34778</text>
<text x="1517.7" y="168.4" font-size="14" fill="#4b515b" textLength="28" lengthAdjust="spacingAndGlyphs" stroke="#4b515b" stroke-width="0.2">最高</text>
<text x="1517.7" y="188.5" font-size="15" fill="#1e232b" textLength="51" lengthAdjust="spacingAndGlyphs" stroke="#1e232b" stroke-width="0.2">1.35009</text>
<text x="1674" y="168.4" font-size="14" fill="#4b515b" textLength="28" lengthAdjust="spacingAndGlyphs" stroke="#4b515b" stroke-width="0.2">买价</text>
<text x="1674" y="188.5" font-size="15" fill="#15bf86" textLength="51" lengthAdjust="spacingAndGlyphs" stroke="#15bf86" stroke-width="0.2">1.34752</text>
<text x="1361.4" y="214.9" font-size="14" fill="#4b515b" textLength="28" lengthAdjust="spacingAndGlyphs" stroke="#4b515b" stroke-width="0.2">昨收</text>
<text x="1361.4" y="235.5" font-size="15" fill="#1e232b" textLength="51" lengthAdjust="spacingAndGlyphs" stroke="#1e232b" stroke-width="0.2">1.34816</text>
<text x="1517.7" y="214.9" font-size="14" fill="#4b515b" textLength="28" lengthAdjust="spacingAndGlyphs" stroke="#4b515b" stroke-width="0.2">最低</text>
<text x="1517.7" y="235.5" font-size="15" fill="#1e232b" textLength="51" lengthAdjust="spacingAndGlyphs" stroke="#1e232b" stroke-width="0.2">1.34721</text>
<text x="1674" y="214.9" font-size="14" fill="#4b515b" textLength="28" lengthAdjust="spacingAndGlyphs" stroke="#4b515b" stroke-width="0.2">卖价</text>
<text x="1674" y="235.5" font-size="15" fill="#f6524f" textLength="51" lengthAdjust="spacingAndGlyphs" stroke="#f6524f" stroke-width="0.2">1.34745</text>
<rect x="1361" y="254" width="468" height="1" fill="#eceef1"/>
<text x="1361.4" y="291.5" font-size="15" fill="#1e232b" font-weight="700" textLength="30" lengthAdjust="spacingAndGlyphs">表现</text>
<path d="M1814.5 288 L1821.3 281.2 L1828 288" fill="none" stroke="#1e232b" stroke-width="1.6"/>
<text x="1361.4" y="322.3" font-size="14" fill="#4b515b" stroke="#4b515b" stroke-width="0.2">近5日</text>
<text x="1361.4" y="340.6" font-size="15" fill="#1e232b" textLength="43.8" lengthAdjust="spacingAndGlyphs" stroke="#1e232b" stroke-width="0.2">-0.22%</text>
<text x="1517.7" y="322.3" font-size="14" fill="#4b515b" stroke="#4b515b" stroke-width="0.2">近1月</text>
<text x="1517.7" y="340.6" font-size="15" fill="#1e232b" textLength="43.8" lengthAdjust="spacingAndGlyphs" stroke="#1e232b" stroke-width="0.2">-1.49%</text>
<text x="1674" y="322.3" font-size="14" fill="#4b515b" stroke="#4b515b" stroke-width="0.2">近6月</text>
<text x="1674" y="340.6" font-size="15" fill="#1e232b" textLength="43.8" lengthAdjust="spacingAndGlyphs" stroke="#1e232b" stroke-width="0.2">-0.02%</text>
<text x="1361.4" y="369.3" font-size="14" fill="#4b515b" stroke="#4b515b" stroke-width="0.2">近1年</text>
<text x="1361.4" y="387.6" font-size="15" fill="#1e232b" textLength="43.8" lengthAdjust="spacingAndGlyphs" stroke="#1e232b" stroke-width="0.2">+6.30%</text>
<text x="1517.7" y="369.3" font-size="14" fill="#4b515b" stroke="#4b515b" stroke-width="0.2">近5年</text>
<text x="1517.7" y="387.6" font-size="15" fill="#1e232b" textLength="43.8" lengthAdjust="spacingAndGlyphs" stroke="#1e232b" stroke-width="0.2">-3.23%</text>
<text x="1674" y="369.3" font-size="14" fill="#4b515b" stroke="#4b515b" stroke-width="0.2">上市至今</text>
<text x="1674" y="387.6" font-size="15" fill="#1e232b" textLength="51.1" lengthAdjust="spacingAndGlyphs" stroke="#1e232b" stroke-width="0.2">-15.98%</text>
<text x="1361.4" y="416.3" font-size="14" fill="#4b515b" stroke="#4b515b" stroke-width="0.2">52周最高</text>
<text x="1361.4" y="434.6" font-size="15" fill="#1e232b" textLength="51.1" lengthAdjust="spacingAndGlyphs" stroke="#1e232b" stroke-width="0.2">1.38683</text>
<text x="1517.7" y="416.3" font-size="14" fill="#4b515b" stroke="#4b515b" stroke-width="0.2">52周最低</text>
<text x="1517.7" y="434.6" font-size="15" fill="#1e232b" textLength="51.1" lengthAdjust="spacingAndGlyphs" stroke="#1e232b" stroke-width="0.2">1.20357</text>
<text x="1674" y="416.3" font-size="14" fill="#4b515b" stroke="#4b515b" stroke-width="0.2">最大跌幅</text>
<text x="1674" y="434.6" font-size="15" fill="#15bf86" textLength="36.5" lengthAdjust="spacingAndGlyphs" stroke="#15bf86" stroke-width="0.2">9.31%</text>
<text x="1361.4" y="478.5" font-size="15" fill="#1e232b" font-weight="700" textLength="56" lengthAdjust="spacingAndGlyphs">相关品种</text>
<rect x="1791" y="462.5" width="13.5" height="14.5" rx="2" fill="none" stroke="#1e232b" stroke-width="1.5"/><path d="M1794.3 467 H1801 M1794.3 470.5 H1798.5" stroke="#1e232b" stroke-width="1.4"/>
<path d="M1814.5 474 L1821.3 467.2 L1828 474" fill="none" stroke="#1e232b" stroke-width="1.6"/>
<text x="1361.4" y="510" font-size="12.5" fill="#8b9099">资产</text>
<text x="1462.4" y="510" font-size="12.5" fill="#8b9099">名称</text>
<text x="1732" y="510" font-size="12.5" fill="#8b9099" text-anchor="end">最新价</text>
<text x="1829" y="510" font-size="12.5" fill="#8b9099" text-anchor="end">涨跌幅</text>
<text x="1361.4" y="537.3" font-size="14.5" fill="#1e232b" textLength="58.5" lengthAdjust="spacingAndGlyphs">AUDUSD</text>
<text x="1462.4" y="537.3" font-size="14.5" fill="#3a3f47">澳元/美元</text>
<text x="1732" y="537.3" font-size="14.5" fill="#15bf86" text-anchor="end" textLength="50" lengthAdjust="spacingAndGlyphs">0.71216</text>
<text x="1829" y="537.3" font-size="14.5" fill="#f6524f" text-anchor="end" textLength="46" lengthAdjust="spacingAndGlyphs">+0.24%</text>
<text x="1361.4" y="569.3" font-size="14.5" fill="#1e232b" textLength="58.5" lengthAdjust="spacingAndGlyphs">EURGBP</text>
<text x="1462.4" y="569.3" font-size="14.5" fill="#3a3f47">欧元/英镑</text>
<text x="1732" y="569.3" font-size="14.5" fill="#f6524f" text-anchor="end" textLength="50" lengthAdjust="spacingAndGlyphs">0.87626</text>
<text x="1829" y="569.3" font-size="14.5" fill="#f6524f" text-anchor="end" textLength="46" lengthAdjust="spacingAndGlyphs">+0.19%</text>
<text x="1361.4" y="601.3" font-size="14.5" fill="#1e232b" textLength="58.5" lengthAdjust="spacingAndGlyphs">EURUSD</text>
<text x="1462.4" y="601.3" font-size="14.5" fill="#3a3f47">欧元/美元</text>
<text x="1732" y="601.3" font-size="14.5" fill="#f6524f" text-anchor="end" textLength="50" lengthAdjust="spacingAndGlyphs">1.18068</text>
<text x="1829" y="601.3" font-size="14.5" fill="#f6524f" text-anchor="end" textLength="46" lengthAdjust="spacingAndGlyphs">+0.09%</text>
<rect x="1133.4" y="50.4" width="76.2" height="234.7" rx="5" fill="none" stroke="#ffc800" stroke-width="5.6"/>
<rect x="1136.7" y="401.9" width="70.2" height="62.7" rx="4" fill="none" stroke="#ffc800" stroke-width="5.6"/>
<rect x="89.1" y="457.9" width="150.7" height="74.7" rx="5" fill="none" stroke="#ffc800" stroke-width="5.6"/>
<g transform="translate(72.2 543)" fill="rgb(124,236,211)" stroke="rgb(124,236,211)" stroke-width="0"><rect x="0" y="0" width="5.3" height="21.2"/><rect x="0" y="0" width="13.4" height="4.5"/><rect x="0" y="8.6" width="12.6" height="4.4"/><circle cx="23.25" cy="13.05" r="6.05" fill="none" stroke-width="5" stroke="rgb(124,236,211)"/><rect x="27.6" y="4.5" width="5" height="17.1"/><text x="35.1" y="21.5" font-size="31.5" font-weight="700" textLength="14.6" lengthAdjust="spacingAndGlyphs">s</text><path d="M50.3 9.2 L57.6 0.9 V5.3 H62 V9.2 H57.6 V17 H62 V21.2 H57.2 Q53 21.2 53 17 V9.2 Z"/><text x="63.4" y="21.2" font-size="30" font-weight="700" textLength="18.6" lengthAdjust="spacingAndGlyphs">B</text><path d="M83.9 4.5 V13.5 A6 6 0 0 0 95.9 13.5 V7.5" fill="none" stroke-width="5.2" stroke="rgb(124,236,211)"/><rect x="101" y="0" width="4.9" height="21.2"/><rect x="108.7" y="0" width="4.9" height="21.2"/></g>
<filter id="wm" x="-10%" y="-30%" width="120%" height="160%"><feGaussianBlur in="SourceAlpha" stdDeviation="5"/><feOffset dy="3"/><feComponentTransfer><feFuncA type="linear" slope="0.16"/></feComponentTransfer><feMerge><feMergeNode/><feMergeNode in="SourceGraphic"/></feMerge></filter>
<g filter="url(#wm)"><g transform="translate(1357 476) scale(3.51 3.45)" fill="rgba(255,255,255,0.8)"><rect x="0" y="0" width="5.3" height="21.2"/><rect x="0" y="0" width="13.4" height="4.5"/><rect x="0" y="8.6" width="12.6" height="4.4"/><circle cx="23.25" cy="13.05" r="6.05" fill="none" stroke-width="5" stroke="rgba(255,255,255,0.8)"/><rect x="27.6" y="4.5" width="5" height="17.1"/><text x="35.1" y="21.5" font-size="31.5" font-weight="700" textLength="14.6" lengthAdjust="spacingAndGlyphs">s</text><path d="M50.3 9.2 L57.6 0.9 V5.3 H62 V9.2 H57.6 V17 H62 V21.2 H57.2 Q53 21.2 53 17 V9.2 Z"/><text x="63.4" y="21.2" font-size="30" font-weight="700" textLength="18.6" lengthAdjust="spacingAndGlyphs">B</text><path d="M83.9 4.5 V13.5 A6 6 0 0 0 95.9 13.5 V7.5" fill="none" stroke-width="5.2" stroke="rgba(255,255,255,0.8)"/><rect x="101" y="0" width="4.9" height="21.2"/><rect x="108.7" y="0" width="4.9" height="21.2"/></g></g></svg></body></html>
